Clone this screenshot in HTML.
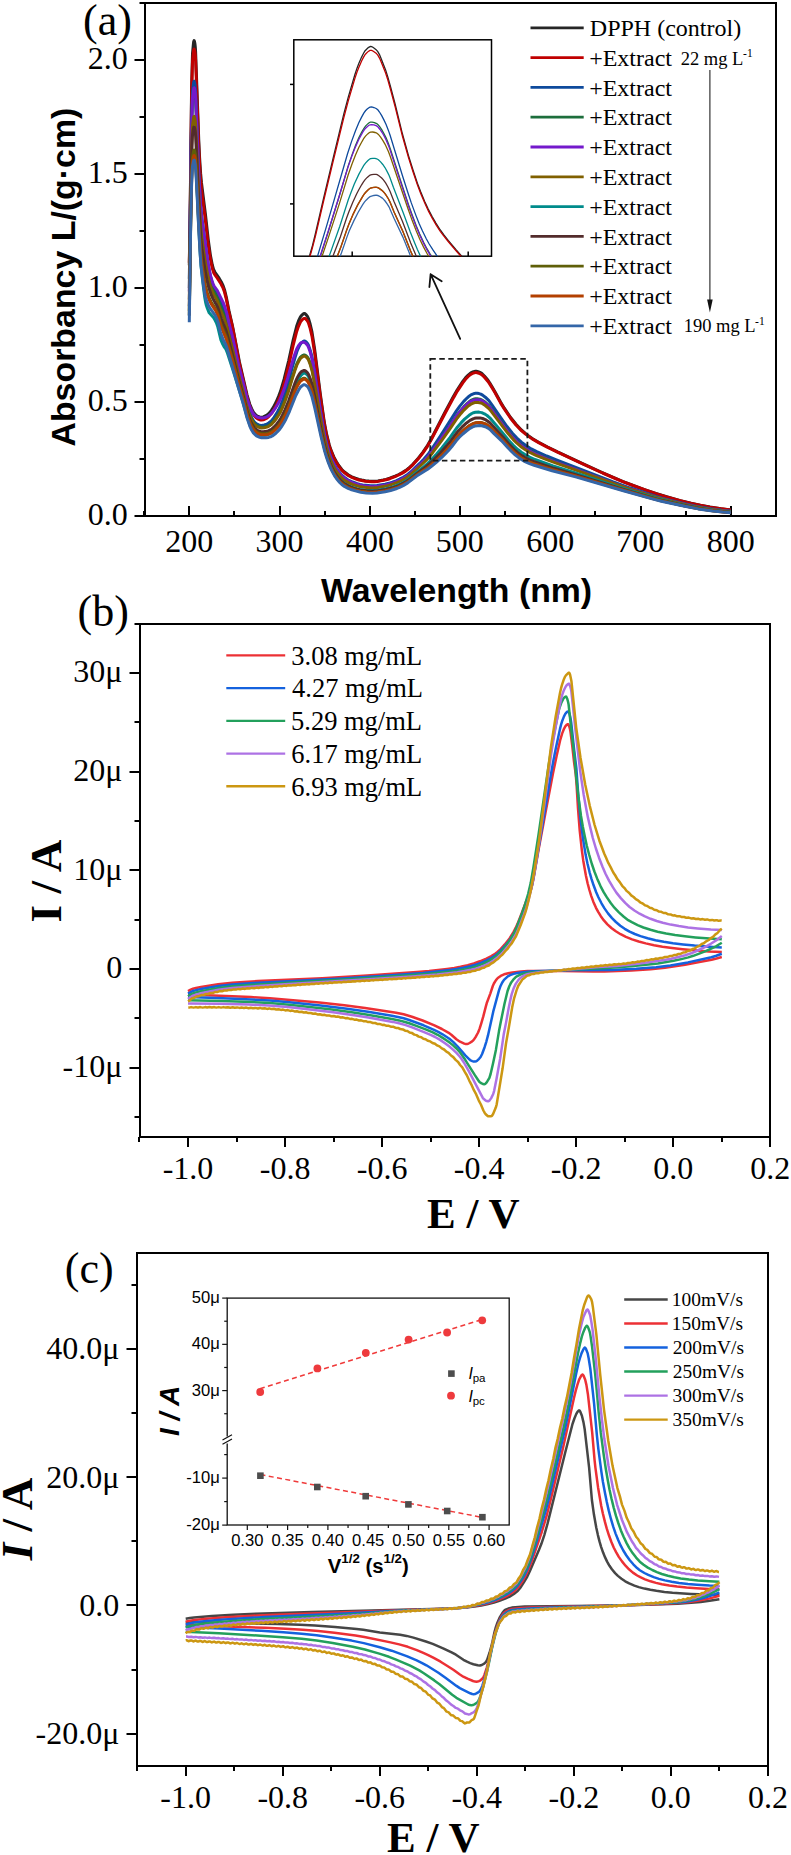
<!DOCTYPE html>
<html><head><meta charset="utf-8"><style>
html,body{margin:0;padding:0;background:#fff;width:791px;height:1855px;overflow:hidden}
svg{display:block}
</style></head><body>
<svg width="791" height="1855" viewBox="0 0 791 1855">
<rect width="791" height="1855" fill="#fff"/>
<rect x="145.0" y="3.0" width="631.0" height="513.0" fill="none" stroke="#000" stroke-width="2"/>
<line x1="134.5" y1="516" x2="145" y2="516" stroke="#000" stroke-width="2" />
<line x1="139.5" y1="459" x2="145" y2="459" stroke="#000" stroke-width="2" />
<line x1="134.5" y1="402" x2="145" y2="402" stroke="#000" stroke-width="2" />
<line x1="139.5" y1="345" x2="145" y2="345" stroke="#000" stroke-width="2" />
<line x1="134.5" y1="288" x2="145" y2="288" stroke="#000" stroke-width="2" />
<line x1="139.5" y1="231" x2="145" y2="231" stroke="#000" stroke-width="2" />
<line x1="134.5" y1="174" x2="145" y2="174" stroke="#000" stroke-width="2" />
<line x1="139.5" y1="117" x2="145" y2="117" stroke="#000" stroke-width="2" />
<line x1="134.5" y1="60" x2="145" y2="60" stroke="#000" stroke-width="2" />
<line x1="139.5" y1="3" x2="145" y2="3" stroke="#000" stroke-width="2" />
<line x1="144" y1="516" x2="144" y2="511" stroke="#000" stroke-width="2" />
<line x1="189" y1="516" x2="189" y2="506" stroke="#000" stroke-width="2" />
<line x1="234" y1="516" x2="234" y2="511" stroke="#000" stroke-width="2" />
<line x1="280" y1="516" x2="280" y2="506" stroke="#000" stroke-width="2" />
<line x1="325" y1="516" x2="325" y2="511" stroke="#000" stroke-width="2" />
<line x1="370" y1="516" x2="370" y2="506" stroke="#000" stroke-width="2" />
<line x1="415" y1="516" x2="415" y2="511" stroke="#000" stroke-width="2" />
<line x1="460" y1="516" x2="460" y2="506" stroke="#000" stroke-width="2" />
<line x1="505" y1="516" x2="505" y2="511" stroke="#000" stroke-width="2" />
<line x1="550" y1="516" x2="550" y2="506" stroke="#000" stroke-width="2" />
<line x1="595" y1="516" x2="595" y2="511" stroke="#000" stroke-width="2" />
<line x1="641" y1="516" x2="641" y2="506" stroke="#000" stroke-width="2" />
<line x1="686" y1="516" x2="686" y2="511" stroke="#000" stroke-width="2" />
<line x1="731" y1="516" x2="731" y2="506" stroke="#000" stroke-width="2" />
<line x1="776" y1="516" x2="776" y2="511" stroke="#000" stroke-width="2" />
<text x="87.75" y="525.2" font-family="'Liberation Serif', serif" font-size="32" text-anchor="start" font-weight="normal" font-style="normal" fill="#000" >0.0</text>
<text x="87.75" y="411.2" font-family="'Liberation Serif', serif" font-size="32" text-anchor="start" font-weight="normal" font-style="normal" fill="#000" >0.5</text>
<text x="87.75" y="297.2" font-family="'Liberation Serif', serif" font-size="32" text-anchor="start" font-weight="normal" font-style="normal" fill="#000" >1.0</text>
<text x="87.75" y="183.2" font-family="'Liberation Serif', serif" font-size="32" text-anchor="start" font-weight="normal" font-style="normal" fill="#000" >1.5</text>
<text x="87.75" y="69.2" font-family="'Liberation Serif', serif" font-size="32" text-anchor="start" font-weight="normal" font-style="normal" fill="#000" >2.0</text>
<text x="165.18" y="551.85" font-family="'Liberation Serif', serif" font-size="32" text-anchor="start" font-weight="normal" font-style="normal" fill="#000" >200</text>
<text x="255.43" y="551.85" font-family="'Liberation Serif', serif" font-size="32" text-anchor="start" font-weight="normal" font-style="normal" fill="#000" >300</text>
<text x="346.05" y="551.85" font-family="'Liberation Serif', serif" font-size="32" text-anchor="start" font-weight="normal" font-style="normal" fill="#000" >400</text>
<text x="435.8" y="551.85" font-family="'Liberation Serif', serif" font-size="32" text-anchor="start" font-weight="normal" font-style="normal" fill="#000" >500</text>
<text x="526.17" y="551.85" font-family="'Liberation Serif', serif" font-size="32" text-anchor="start" font-weight="normal" font-style="normal" fill="#000" >600</text>
<text x="616.17" y="551.85" font-family="'Liberation Serif', serif" font-size="32" text-anchor="start" font-weight="normal" font-style="normal" fill="#000" >700</text>
<text x="706.8" y="551.85" font-family="'Liberation Serif', serif" font-size="32" text-anchor="start" font-weight="normal" font-style="normal" fill="#000" >800</text>
<text x="74.95" y="446.55" font-family="'Liberation Sans', sans-serif" font-size="33.9" text-anchor="start" font-weight="bold" font-style="normal" fill="#000" transform="rotate(-90 74.95 446.55)">Absorbancy L/(g·cm)</text>
<text x="321.1" y="602" font-family="'Liberation Sans', sans-serif" font-size="33.8" text-anchor="start" font-weight="bold" font-style="normal" fill="#000" >Wavelength (nm)</text>
<text x="83.1" y="35.2" font-family="'Liberation Serif', serif" font-size="44" text-anchor="start" font-weight="normal" font-style="normal" fill="#000" >(a)</text>
<g fill="none" stroke-width="3" stroke-linejoin="round" stroke-linecap="butt">
<path d="M189.3 265.2l0.7-41.3l1.6-136.5l0.9-33.7l0.9-9.7l0.3-2.5l0.4-0.9l0.4 1l0.5 2.7l0.3 2.9l0.3 4.5l3.2 89.6l0.8 16.6l1 15.3l0.9 9.8l4 32l2.8 25.1l2.2 15.8l1.8 9.1l1.4 4.8l1.3 2.5l4.1 5.9l2.2 3.8l1.8 3.7l1.4 4l1.8 7.4l2.7 13.7l3.6 15.7l6.8 35.4l7.7 33.3l2.7 9l1.8 4.4l1.8 3.6l0.9 1.2l1.8 1.8l1.8 1.2l1.8 0.6l1.8 0.3l1.8-0.4l3.6-1.8l1.8-1.5l2.7-3.2l1.8-2.8l2.7-5.1l2.7-6.1l1.9-5l3.6-12.2l4.5-18.2l4.5-20.6l3.6-14.3l1.8-5.1l1.8-3.9l0.9-1.3l1.8-1.7l0.9-0.5l0.9 0l0.9 0.6l0.9 1.1l0.9 1.2l0.9 1.8l1.8 6l1.8 7.9l2.7 17.4l5.5 43.7l3.6 25.5l0.9 5.6l1.8 9.3l2.7 11l1.8 5.5l2.7 6.5l2.7 5l2.7 4.3l2.7 3.5l2.7 2.5l3.6 2.8l3.7 2l3.6 1.4l3.6 1.2l2.7 0.6l3.6 0.7l3.6 0.4l2.7 0.2l2.7 0l3.6-0.4l5.4-0.9l2.7-0.6l3.7-1.2l5.4-2.1l3.6-1.6l3.6-1.9l3.6-2.2l2.7-2.1l4.5-4.2l5.4-6.1l4.5-5.9l4.6-6.8l3.6-6.3l13.5-26.3l9-16.7l3.6-6.2l5.5-8.4l2.7-3.5l2.7-2.8l1.8-1.6l1.8-1.1l1.8-0.8l1.8-0.4l0.9 0.1l1.8 0.4l1.8 0.7l1.8 1l2.7 2.6l3.6 4.3l1.8 2.7l2.7 4.5l2.7 4.7l5.5 10.1l3.6 5.9l6.3 9.3l5.4 6.8l5.4 5.7l4.5 3.9l6.3 4.6l6.4 3.7l9 4.8l9.9 4.9l26.2 12.2l18 8.3l20.8 8.9l10.8 4.2l11.8 4.3l10.8 3.7l9.9 3l14.5 4.1l10.8 2.7l9 2l9.9 1.8l10.9 1.7l9.9 1.3" stroke="#262626"/>
<path d="M189.3 262.9l0.8-44.6l1.5-124.1l0.9-32.6l0.9-9.3l0.3-2.4l0.4-0.9l0.4 1l0.5 2.7l0.3 2.9l0.3 4.4l3.2 87.7l0.8 16.5l1 15.4l0.9 9.8l4 32l2.3 20.3l2.3 15.7l2.2 11l1.4 4.3l0.9 1.7l2.7 3.7l3.6 5.7l2.2 4.4l1.4 3.9l1.8 7.1l2.7 13.3l3.2 13.2l2.2 11.2l4.5 24.4l8.2 35.8l2.7 9.2l1.8 4.5l1.8 3.6l0.9 1.3l1.8 2l0.9 0.7l1.8 1l1.8 0.7l0.9 0l1.8-0.3l3.6-1.7l1.8-1.5l2.7-3l2.7-4.3l2.7-5.1l1.8-4.1l1.9-4.7l1.8-5.6l2.7-9.5l3.6-14.4l4.5-20.2l3.6-14.3l1.8-5.1l1.8-4l0.9-1.4l1.8-1.9l0.9-0.6l0.9 0l0.9 0.5l0.9 1l0.9 1.2l0.9 1.8l1.8 5.7l1.8 7.7l2.7 16.9l5.5 42.5l3.6 24.9l0.9 5.4l1.8 9.1l2.7 10.8l1.8 5.3l2.7 6.4l2.7 5l2.7 4.3l2.7 3.4l2.7 2.5l3.6 2.7l3.7 1.9l3.6 1.4l3.6 1.2l2.7 0.6l3.6 0.6l6.3 0.6l2.7 0l3.6-0.4l8.1-1.6l3.7-1.1l5.4-2.1l3.6-1.6l3.6-1.9l3.6-2.2l2.7-2.1l4.5-4.2l5.4-6l4.5-5.8l4.6-6.7l3.6-6.3l13.5-25.8l9-16.6l3.6-6.3l5.5-8.3l2.7-3.5l2.7-2.8l1.8-1.6l1.8-1.1l1.8-0.8l1.8-0.4l0.9 0l1.8 0.4l1.8 0.7l1.8 1l2.7 2.5l3.6 4.3l1.8 2.6l2.7 4.4l2.7 4.6l5.5 10l3.6 5.9l6.3 9.2l5.4 6.8l5.4 5.6l4.5 3.8l6.3 4.5l6.4 3.7l8.1 4.3l10.8 5.3l26.2 12.1l18.9 8.7l12.7 5.5l8.1 3.3l10.8 4.2l11.8 4.2l10.8 3.6l9.9 3.1l13.6 3.7l10.8 2.8l9 1.9l9.9 1.9l10.9 1.6l9.9 1.3" stroke="#c00000"/>
<path d="M189.3 278.9l0.6-34.9l1.1-90.2l0.6-33.1l0.9-28.7l0.9-8l0.3-2l0.4-0.8l0.4 1.2l0.5 2.6l0.6 6.9l3.2 80.6l1.8 31.6l0.9 10l0.9 7.5l5 37.2l1.3 8.4l1.8 9.1l2.3 8.2l1.3 3.3l2.7 4.9l0.9 1.9l3.2 8.6l2.7 6.5l2.3 7l0.9 3.4l2.2 10.2l3.2 12.5l6.7 30.1l4.5 17.2l2.8 11.4l1.8 6.4l1.8 5.5l1.8 4.1l1.8 3.2l0.9 1.2l1.8 1.6l0.9 0.6l1.8 0.8l1.8 0.5l0.9 0.1l2.7-0.5l2.7-0.9l1.8-1.1l2.7-2.2l2.7-3.5l2.7-4.2l1.8-3.3l1.9-3.9l1.8-4.6l2.7-7.8l3.6-12.1l3.6-13.7l2.7-9.7l1.8-5.8l0.9-2.4l1.8-3.9l0.9-1.6l0.9-1.2l1.8-1.6l0.9-0.5l0.9 0l0.9 0.5l0.9 0.9l0.9 1.1l0.9 1.6l1.8 5.1l1.8 6.8l2.7 14.9l5.5 36.7l3.6 21.4l0.9 4.8l1.8 7.9l2.7 9.7l1.8 5l2.7 6l2.7 4.7l2.7 4l2.7 3.1l2.7 2.3l3.6 2.5l3.7 1.7l5.4 2l2.7 0.7l2.7 0.5l8.1 0.9l2.7 0l3.6-0.2l8.1-1.4l3.7-0.9l3.6-1.2l3.6-1.3l3.6-1.6l3.6-1.9l3.6-2.2l4.5-3.6l8.1-7.8l4.6-4.7l4.5-5.4l3.6-5.1l8.1-12.3l16.2-25.3l3.6-5l3.7-4.5l3.6-3.6l1.8-1.6l1.8-1.3l1.8-0.8l1.8-0.7l0.9-0.1l1.8 0l1.8 0.3l1.8 0.5l1.8 1l2.7 2.1l3.6 3.5l2.7 3.6l9.1 13.3l6.3 8.9l5.4 6.8l4.5 4.8l4.5 4.1l4.5 3.3l5.4 3.4l5.5 2.7l9.9 4.4l9 3.7l56.9 22l17.1 6.1l24.4 7.9l8.1 2.4l9 2.3l13.6 3.4l9 2l9 1.7l8.1 1.3l10.9 1.5l9 1" stroke="#0e4a9c"/>
<path d="M189.3 288l2.3-161.4l0.9-27.8l0.9-7.7l0.3-2l0.4-0.7l0.4 1.3l0.5 2.7l0.6 6.9l3.2 79.7l1.8 31.8l0.9 10.2l0.9 7.7l2.7 21l3.2 21.3l1.8 8.7l2.2 7.8l1.4 3.4l2.7 4.8l1.3 2.8l3.2 8.9l3.1 7.4l2.3 6.8l2.7 11.4l3.6 14l6.3 27.5l4.5 17.1l2.8 11.3l1.8 6.5l1.8 5.5l1.8 4.1l1.8 3.2l0.9 1.1l1.8 1.8l0.9 0.6l1.8 0.8l2.7 0.7l2.7-0.3l2.7-0.6l1.8-0.8l2.7-1.9l2.7-3l2.7-3.6l1.8-2.8l1.9-3.4l1.8-4l2.7-6.8l3.6-10.4l3.6-12.1l2.7-8.3l1.8-5.1l0.9-2l1.8-3.3l0.9-1.4l0.9-0.9l1.8-1.2l0.9-0.3l0.9 0l0.9 0.5l0.9 0.7l0.9 1l0.9 1.3l1.8 4.6l1.8 6.2l2.7 13.4l5.5 33l3.6 19.4l2.7 11.7l2.7 9l1.8 4.7l2.7 5.8l2.7 4.5l2.7 3.8l2.7 3l2.7 2.1l3.6 2.3l3.7 1.6l5.4 1.8l2.7 0.7l2.7 0.4l8.1 0.8l3.6-0.1l3.6-0.3l8.1-1.4l3.7-1l3.6-1.2l3.6-1.4l3.6-1.6l3.6-2l2.7-1.6l4.5-3.6l9-8.3l4.6-4.5l4.5-5.1l3.6-4.8l9-12.7l8.1-11.9l7.2-11l3.7-4.7l2.7-3.2l3.6-3.6l1.8-1.5l1.8-1.3l3.6-1.5l0.9-0.2l1.8 0l2.7 0.4l0.9 0.3l1.8 0.9l2.7 1.9l3.6 3.3l2.7 3.3l9.1 12.6l7.2 9.8l5.4 6.4l4.5 4.5l3.6 3.2l4.5 3.2l5.4 3.1l5.5 2.7l9.9 4.1l8.1 3.2l59.6 21.7l16.2 5.5l24.4 7.7l8.1 2.3l9 2.3l13.6 3.3l8.1 1.7l9 1.7l8.1 1.3l10.9 1.4l9 1" stroke="#1d6e3c"/>
<path d="M189.3 291.4l0.6-41l1.1-92.3l0.6-32l0.9-27.9l1-8.3l0.3-1.7l0.2-0.3l0.2-0.1l0.4 1.3l0.7 3.9l0.4 6.3l3.1 76.6l1.8 30.9l0.9 9.8l0.9 7.1l5 35.5l1.3 8.1l1.8 8.4l1.4 4.8l1.3 3.8l0.9 1.7l2.7 3.8l0.9 1.5l5.4 11l1.8 4.8l1.9 6.3l2.2 10l3.2 12.1l6.7 30.8l4.5 17.3l3.7 14.8l1.8 5.9l1.8 4.7l1.8 3.5l0.9 1.4l1.8 1.9l1.8 1.2l0.9 0.3l3.6 0.6l1.8 0l2.7-0.7l1.8-0.8l2.7-2.1l1.8-1.9l2.7-3.7l2.7-4.5l1.9-3.5l1.8-4.3l1.8-4.8l1.8-5.1l2.7-8.5l5.4-18.6l1.8-5.5l1.8-4.9l1.8-3.4l1.8-2.3l0.9-0.6l0.9-0.3l0.9-0.2l0.9 0.1l0.9 0.4l0.9 0.5l1.8 2.1l0.9 1.6l1.8 5.1l1.8 6.9l2.7 14.8l5.5 36.2l3.6 21.2l0.9 4.7l1.8 7.8l2.7 9.6l1.8 5l2.7 6l2.7 4.7l3.6 5.1l2.7 2.8l2.7 2.1l3.6 2.3l3.7 1.6l6.3 2.1l2.7 0.6l3.6 0.6l6.3 0.6l2.7-0.1l3.6-0.3l8.1-1.3l3.7-1l3.6-1.2l3.6-1.3l3.6-1.6l3.6-2l2.7-1.6l4.5-3.6l8.1-7.4l4.6-4.4l4.5-5l3.6-4.6l9-12.5l9-13l7.2-10.7l3.7-4.6l2.7-3.1l3.6-3.4l1.8-1.5l1.8-1.2l1.8-0.8l1.8-0.6l2.7-0.2l2.7 0.4l0.9 0.2l1.8 0.9l2.7 1.9l3.6 3.2l2.7 3.3l9.1 12.5l7.2 9.6l5.4 6.4l4.5 4.5l3.6 3.1l4.5 3.2l5.4 3.2l5.5 2.5l9.9 4.2l8.1 3.1l16.3 5.8l44.2 16.1l16.2 5.5l24.4 7.6l17.1 4.6l12.7 3l8.1 1.7l9 1.7l8.1 1.3l10.9 1.4l9 1" stroke="#7419cc"/>
<path d="M189.3 299.4l2.2-146.6l0.5-16.7l0.5-11l1-7l0.3-1.4l0.4-0.3l0.4 1.1l0.7 3.5l0.4 5.5l3 67.7l1.9 31.8l0.9 9.6l0.9 7l2.7 18.5l2.3 12.6l2.2 9.7l2.3 7.2l1.8 4.1l2.7 4.5l1.3 2.8l2.7 7.9l3.6 8.5l2.3 6.5l2.7 11l3.6 13.6l6.3 26.7l4.5 16.7l2.8 11.2l2.7 9.3l1.8 4.8l1.8 3.5l1.8 2.6l1.8 1.6l0.9 0.7l1.8 0.7l2.7 0.7l2.7-0.3l2.7-0.6l1.8-0.8l2.7-1.8l2.7-2.9l2.7-3.6l1.8-2.8l1.9-3.3l1.8-4l2.7-6.7l3.6-10.3l3.6-12l2.7-8.4l1.8-5l0.9-2l1.8-3.4l0.9-1.4l0.9-0.9l1.8-1.3l0.9-0.4l0.9 0.1l0.9 0.4l0.9 0.8l0.9 1l0.9 1.4l1.8 4.6l1.8 6.1l2.7 13.5l5.5 32.6l3.6 19.3l2.7 11.5l1.8 6.3l1.8 5.2l2.7 6.2l1.8 3.4l2.7 4.2l2.7 3.5l2.7 2.7l2.7 2l3.6 2l3.7 1.6l6.3 1.9l5.4 0.9l7.2 0.6l2.7-0.1l3.6-0.3l8.1-1.4l3.7-1l3.6-1.2l3.6-1.3l3.6-1.6l3.6-1.9l2.7-1.7l4.5-3.5l9.9-8.9l4.6-4.3l3.6-4l3.6-4.5l9-12.1l8.1-11.4l7.2-10.7l3.7-4.6l2.7-3.1l3.6-3.4l1.8-1.5l1.8-1.2l3.6-1.6l1.8-0.2l1.8 0.1l2.7 0.4l1.8 0.8l2.7 1.8l3.6 3.1l2.7 3.2l16.3 21.5l5.4 6.3l3.6 3.6l4.5 3.8l3.6 2.5l5.4 3.2l5.5 2.6l10.8 4.4l8.1 3l16.3 5.7l44.2 15.8l15.3 5.2l25.3 7.8l17.1 4.5l13.6 3.2l8.1 1.7l9 1.6l8.1 1.3l10 1.3l9 0.9" stroke="#806000"/>
<path d="M189.3 315.4l1.3-90.5l0.8-41.6l0.6-16.9l0.5-9l0.9-5.2l0.3-1.2l0.4-0.5l0.5 2.1l0.7 4.5l0.5 6.9l2.9 62.1l1.4 26.1l0.9 13.3l1.8 16.9l1.8 14l0.9 5.4l0.9 3.8l1 2.9l1.8 4.3l4.5 4.9l1.3 2.3l1.4 2.7l1.3 3.7l3.2 13.5l1.8 4.2l1.3 2.5l1.9 2.6l1.3 3.1l6.3 19.4l9 28.9l4.6 16.3l2.7 7.9l0.9 2l1.8 3.1l1.8 2.3l1.8 1.4l1.8 0.9l2.7 0.7l3.6 0l1.8-0.2l1.8-0.3l2.7-1.1l1.8-1.2l3.6-3.4l1.8-2.1l1.9-2.4l1.8-3l2.7-5.2l1.8-3.9l3.6-9.2l2.7-8l3.6-10l1.8-4.2l1.8-3.3l0.9-1.5l0.9-1l1.8-1.6l0.9-0.4l0.9-0.1l0.9 0.4l0.9 0.7l0.9 0.9l0.9 1.2l1.8 4.1l1.8 5.4l2.7 11.9l5.5 28.3l3.6 16.8l2.7 10.2l1.8 5.6l1.8 4.8l2.7 5.9l1.8 3.3l2.7 3.9l2.7 3.3l2.7 2.5l3.6 2.4l3.6 1.8l3.7 1.3l3.6 1.1l2.7 0.6l5.4 0.7l7.2 0.4l5.4-0.4l8.1-1.4l6.4-1.7l6.3-2.4l3.6-1.7l3.6-2.1l3.6-2.5l6.3-5.3l8.2-6.4l3.6-3.1l3.6-3.6l5.4-6l5.4-6.3l8.1-10.3l7.2-10.2l3.7-4.3l3.6-3.8l4.5-3.8l2.7-1.8l1.8-0.8l1.8-0.5l3.6-0.1l2.7 0.5l2.7 1.2l2.7 1.7l2.7 2.3l11.8 13.8l7.2 8.8l4.5 4.9l4.5 4.2l3.6 2.8l3.6 2.3l4.5 2.5l5.5 2.4l18 6.4l21.7 6.7l44.2 14.5l13.5 4.2l25.3 7.4l17.1 4.2l11.8 2.7l8.1 1.6l9 1.6l8.1 1.2l10 1.2l9 0.9" stroke="#008b8b"/>
<path d="M189.3 306.2l1.4-99.2l0.8-45.8l0.5-15.8l0.5-10.4l1-6.5l0.3-1.3l0.2-0.3l0.2 0l0.4 1.2l0.7 3.6l0.4 5.4l3.2 69.4l1.2 21.7l0.9 12l0.9 8.2l2.3 16.2l0.9 5.8l1.8 9.4l1.8 7.5l2.3 7l1.8 4.1l3.1 5.5l1.4 2.7l0.9 2.4l2.7 8.9l4 9.8l1.4 3.7l6.3 23.8l6.3 25.4l4.5 16.2l3.7 14.3l1.8 5.9l1.8 4.7l1.8 3.5l1.8 2.6l1.8 1.7l1.8 1.1l2.7 0.9l2.7 0.2l3.6-0.4l1.8-0.6l2.7-1.4l2.7-2.4l2.7-2.9l1.8-2.4l1.9-2.7l1.8-3.4l2.7-5.6l3.6-8.8l6.3-17.8l1.8-4.4l0.9-1.8l1.8-3.1l0.9-1.2l0.9-0.9l1.8-1.1l0.9-0.3l0.9 0.1l0.9 0.5l0.9 0.8l0.9 0.9l0.9 1.4l1.8 4.3l1.8 5.6l2.7 12.3l5.5 29l3.6 17l2.7 10.4l1.8 5.7l1.8 4.8l2.7 6l1.8 3.3l3.6 5.2l2.7 3.1l2.7 2.3l3.6 2.2l3.6 1.7l3.7 1.3l5.4 1.5l6.3 0.9l6.3 0.4l5.4-0.4l8.1-1.3l6.4-1.7l6.3-2.2l6.3-3.2l3.6-2.3l8.1-6.5l9.1-6.6l3.6-3l3.6-3.4l7.2-7.4l6.3-7.1l4.5-5.5l5.4-7.3l1.8-2.2l3.7-3.9l3.6-3.4l4.5-3.4l3.6-1.8l0.9-0.3l1.8-0.3l3.6-0.1l2.7 0.6l2.7 1.1l1.8 1.1l2.7 2.1l11.8 12.7l8.1 9.4l4.5 4.6l3.6 3.2l3.6 2.7l3.6 2.2l4.5 2.2l4.6 1.9l19.8 6.6l21.7 6.3l47.8 14.8l35.2 10.2l9 2.2l12.7 2.9l15.3 3.1l16.2 2.6l10 1.1l9 0.9" stroke="#532c2c"/>
<path d="M189.3 310.8l1.4-91.8l0.8-39.2l0.5-13.8l0.5-9.1l0.9-5.1l0.4-1.5l0.4-0.3l0.4 1.1l0.7 3.2l0.5 6.1l0.9 16l1.9 41l2 32.5l0.9 9.7l0.9 7l2.2 14.8l0.9 4.7l1.9 6.8l1.3 3.9l1.4 3.1l1.3 2.6l4.1 6.4l1.8 3.4l0.9 2.6l2.7 9.3l5.4 12.7l6.3 22.5l6.3 24.1l4.5 15.8l2.8 10.8l2.7 9.1l1.8 4.7l1.8 3.4l1.8 2.5l1.8 1.7l0.9 0.6l2.7 1.2l1.8 0.4l4.5 0l1.8-0.3l2.7-0.9l1.8-1.1l2.7-2.3l1.8-1.8l1.8-2.1l1.9-2.5l1.8-3l2.7-5.1l3.6-8l6.3-16.4l1.8-4.1l0.9-1.7l1.8-2.9l0.9-1.1l0.9-0.8l1.8-1.1l0.9-0.3l0.9 0.1l0.9 0.5l0.9 0.8l0.9 0.9l0.9 1.2l1.8 4.1l1.8 5.3l2.7 11.5l5.5 27l3.6 15.9l1.8 6.8l1.8 5.8l1.8 5.1l1.8 4.2l2.7 5.5l1.8 3l2.7 3.6l2.7 3l2.7 2.2l3.6 2.1l3.6 1.7l4.6 1.5l5.4 1.4l6.3 0.7l5.4 0.3l5.4-0.4l7.2-1.1l6.4-1.5l6.3-2.2l6.3-3l3.6-2.2l9-6.9l10-6.7l4.5-3.5l4.5-4l5.4-5.1l7.2-7.8l3.6-4.3l4.5-6l1.8-2.1l3.7-3.7l3.6-3.3l4.5-3.3l3.6-1.9l2.7-0.6l3.6-0.3l1.8 0.3l3.6 1.1l1.8 1l2.7 1.9l11.8 11.9l6.3 7.1l2.7 2.9l3.6 3.5l3.6 3l3.6 2.6l3.6 2.1l4.5 2.1l4.6 1.8l18.9 6l21.7 5.8l48.7 14.5l28.9 8.2l8.1 2.2l23.5 5.3l13.5 2.6l15.4 2.3l9.9 1.1l8.1 0.8" stroke="#5f5f08"/>
<path d="M189.3 315.4l1.3-88.1l0.9-43l0.5-13.4l0.5-8.8l0.9-4.9l0.4-1.4l0.4-0.3l0.4 1l0.7 3.1l0.5 5.8l0.9 15.6l2.2 45l1.2 20.8l0.9 11.8l1.4 11.2l2.2 14.6l0.9 4.5l1.9 6.3l2.2 5.5l1.8 3.4l4.1 6.3l1.8 3.6l0.9 2.6l2.7 9.7l5.4 12.8l6.3 22.3l6.3 23.6l4.5 15.5l3.7 14l2.7 8.3l1.8 4l1.8 2.9l1.8 2l1.8 1.4l2.7 1.3l1.8 0.3l4.5 0l1.8-0.3l2.7-0.9l1.8-1l3.6-3.2l1.8-1.9l1.9-2.2l1.8-2.7l2.7-4.8l1.8-3.6l3.6-8.4l5.4-14.1l1.8-4.2l0.9-1.7l1.8-3l0.9-1.2l0.9-0.8l1.8-1.2l0.9-0.3l0.9 0.1l0.9 0.4l0.9 0.8l0.9 0.9l0.9 1.2l1.8 4l1.8 5.3l2.7 11.5l5.5 26.7l3.6 15.8l1.8 6.7l1.8 5.8l1.8 5l1.8 4.3l2.7 5.4l1.8 3l2.7 3.6l2.7 3l2.7 2.2l3.6 2.1l3.6 1.6l4.6 1.5l5.4 1.4l6.3 0.7l5.4 0.3l5.4-0.4l7.2-1.1l6.4-1.5l6.3-2.2l6.3-3l3.6-2.2l9-6.9l10-6.6l4.5-3.6l4.5-3.9l5.4-5.2l7.2-7.8l3.6-4.2l4.5-6.1l1.8-2.1l3.7-3.8l3.6-3.2l4.5-3.4l3.6-1.8l2.7-0.7l3.6-0.2l1.8 0.2l3.6 1.2l1.8 1l2.7 1.9l1.8 1.7l2.7 3l7.3 7.2l6.3 7.2l2.7 2.8l3.6 3.6l3.6 3l3.6 2.6l3.6 2.1l4.5 2.1l4.6 1.8l18.9 6l21.7 5.8l48.7 14.4l28.9 8.3l8.1 2.1l23.5 5.3l13.5 2.6l15.4 2.3l9.9 1.1l8.1 0.7" stroke="#b34000"/>
<path d="M189.3 322.2l1.3-92.8l0.8-38.6l0.6-15.9l0.5-8.5l0.9-4.7l0.3-1.2l0.4-0.4l0.3 0.3l0.2 1l0.7 3.5l0.5 6l0.9 15.6l2.1 43.5l1.3 22.9l0.9 12.3l1.8 15.1l1.8 12.2l0.9 4.6l1.4 4.6l1.8 4.3l2.3 3.7l3.1 4.1l1.4 2.2l1.3 2.8l1.4 4l2.2 9.3l0.9 2.8l1.8 4.5l2.8 5.6l0.9 2.4l11.7 40.5l4.9 16.4l3.7 13.7l2.7 8.1l1.8 3.9l1.8 2.9l1.8 1.9l1.8 1.4l2.7 1.2l1.8 0.4l4.5 0l2.7-0.4l1.8-0.5l1.8-0.9l3.6-2.8l1.8-1.8l1.9-2l1.8-2.5l2.7-4.4l1.8-3.3l3.6-7.9l6.3-15.8l2.7-5.3l1.8-2.8l0.9-0.9l1.8-1.4l0.9-0.4l0.9 0l0.9 0.5l0.9 0.7l0.9 0.8l0.9 1.2l1.8 3.8l1.8 5.1l2.7 10.9l6.4 29.3l3.6 14.4l1.8 5.9l1.8 5.2l1.8 4.5l1.8 3.9l2.7 5l1.8 2.6l2.7 3.4l2.7 2.6l2.7 1.9l3.6 1.9l2.7 1.2l4.6 1.4l5.4 1.4l5.4 0.6l6.3 0.3l4.5-0.3l8.1-1.1l5.5-1.3l6.3-2l2.7-1.2l3.6-1.7l4.5-2.7l9-6.8l10.9-6.8l4.5-3.4l4.5-3.7l5.4-5l6.3-6.5l3.6-4.2l4.5-5.9l2.7-3.1l3.7-3.5l3.6-3l3.6-2.7l3.6-1.8l1.8-0.6l4.5-0.4l1.8 0.2l3.6 1l2.7 1.4l2.7 2l3.6 3.8l7.3 6.9l6.3 7l3.6 3.7l3.6 3.3l3.6 2.9l2.7 1.8l3.6 2.1l4.5 2l4.6 1.7l18 5.5l23.5 6.1l47.8 13.8l29.8 8.4l8.1 2.1l23.5 5.1l13.5 2.6l14.5 2.1l9.9 1.1l8.1 0.7" stroke="#3466a8"/>
</g>
<line x1="530.5" y1="27.8" x2="583.7" y2="27.8" stroke="#262626" stroke-width="2.8" />
<text x="589.85" y="35.9" font-family="'Liberation Serif', serif" font-size="24" text-anchor="start" font-weight="normal" font-style="normal" fill="#000" >DPPH (control)</text>
<line x1="530.5" y1="57.6" x2="583.7" y2="57.6" stroke="#c00000" stroke-width="2.8" />
<text x="589.15" y="65.7" font-family="'Liberation Serif', serif" font-size="24" text-anchor="start" font-weight="normal" font-style="normal" fill="#000" >+Extract</text>
<line x1="530.5" y1="87.4" x2="583.7" y2="87.4" stroke="#0e4a9c" stroke-width="2.8" />
<text x="589.15" y="95.5" font-family="'Liberation Serif', serif" font-size="24" text-anchor="start" font-weight="normal" font-style="normal" fill="#000" >+Extract</text>
<line x1="530.5" y1="117.2" x2="583.7" y2="117.2" stroke="#1d6e3c" stroke-width="2.8" />
<text x="589.15" y="125.3" font-family="'Liberation Serif', serif" font-size="24" text-anchor="start" font-weight="normal" font-style="normal" fill="#000" >+Extract</text>
<line x1="530.5" y1="147" x2="583.7" y2="147" stroke="#7419cc" stroke-width="2.8" />
<text x="589.15" y="155.1" font-family="'Liberation Serif', serif" font-size="24" text-anchor="start" font-weight="normal" font-style="normal" fill="#000" >+Extract</text>
<line x1="530.5" y1="176.8" x2="583.7" y2="176.8" stroke="#806000" stroke-width="2.8" />
<text x="589.15" y="184.9" font-family="'Liberation Serif', serif" font-size="24" text-anchor="start" font-weight="normal" font-style="normal" fill="#000" >+Extract</text>
<line x1="530.5" y1="206.6" x2="583.7" y2="206.6" stroke="#008b8b" stroke-width="2.8" />
<text x="589.15" y="214.7" font-family="'Liberation Serif', serif" font-size="24" text-anchor="start" font-weight="normal" font-style="normal" fill="#000" >+Extract</text>
<line x1="530.5" y1="236.4" x2="583.7" y2="236.4" stroke="#532c2c" stroke-width="2.8" />
<text x="589.15" y="244.5" font-family="'Liberation Serif', serif" font-size="24" text-anchor="start" font-weight="normal" font-style="normal" fill="#000" >+Extract</text>
<line x1="530.5" y1="266.2" x2="583.7" y2="266.2" stroke="#5f5f08" stroke-width="2.8" />
<text x="589.15" y="274.3" font-family="'Liberation Serif', serif" font-size="24" text-anchor="start" font-weight="normal" font-style="normal" fill="#000" >+Extract</text>
<line x1="530.5" y1="296" x2="583.7" y2="296" stroke="#b34000" stroke-width="2.8" />
<text x="589.15" y="304.1" font-family="'Liberation Serif', serif" font-size="24" text-anchor="start" font-weight="normal" font-style="normal" fill="#000" >+Extract</text>
<line x1="530.5" y1="325.8" x2="583.7" y2="325.8" stroke="#3466a8" stroke-width="2.8" />
<text x="589.15" y="333.9" font-family="'Liberation Serif', serif" font-size="24" text-anchor="start" font-weight="normal" font-style="normal" fill="#000" >+Extract</text>
<text x="680.65" y="64.7" font-family="'Liberation Serif', serif" font-size="18.5" text-anchor="start" font-weight="normal" font-style="normal" fill="#000" >22 mg L</text>
<text x="743.1" y="57.2" font-family="'Liberation Serif', serif" font-size="11.5" text-anchor="start" font-weight="normal" font-style="normal" fill="#000" >-1</text>
<text x="683.65" y="332" font-family="'Liberation Serif', serif" font-size="18.5" text-anchor="start" font-weight="normal" font-style="normal" fill="#000" >190 mg L</text>
<text x="755.1" y="324.5" font-family="'Liberation Serif', serif" font-size="11.5" text-anchor="start" font-weight="normal" font-style="normal" fill="#000" >-1</text>
<line x1="709.9" y1="70" x2="709.9" y2="302" stroke="#222" stroke-width="1.1" />
<path d="M707.1 299.5 L712.7 299.5 L709.9 312.5 Z" fill="#111"/>
<rect x="430.3" y="358.8" width="97.1" height="101.9" fill="none" stroke="#1a1a1a" stroke-width="1.8" stroke-dasharray="5.5 3.5"/>
<path d="M460.2 338.9 L430.6 274.2 M429.4 287 L430.6 274.2 L441.7 281.2" fill="none" stroke="#111" stroke-width="1.8" stroke-linecap="round" stroke-linejoin="round"/>
<rect x="293.8" y="39.8" width="197.7" height="216.4" fill="#fff" stroke="#000" stroke-width="1.5"/>
<line x1="290" y1="84.4" x2="293.8" y2="84.4" stroke="#000" stroke-width="1.5" />
<line x1="290" y1="203.9" x2="293.8" y2="203.9" stroke="#000" stroke-width="1.5" />
<line x1="352.2" y1="256.2" x2="352.2" y2="251.5" stroke="#000" stroke-width="1.5" />
<line x1="468.2" y1="256.2" x2="468.2" y2="251.5" stroke="#000" stroke-width="1.5" />
<clipPath id="ic"><rect x="293.8" y="39.8" width="197.7" height="216.39999999999998"/></clipPath>
<g fill="none" stroke-width="1.3" clip-path="url(#ic)">
<path d="M284.5 318.3l2.8-4.6l3.4-6.6l3.3-7.5l4.5-10.8l2.8-7.4l2.8-8.1l2.8-8.7l3.3-11.1l2.3-8l2.7-11l8.4-36.4l9-37.8l11.1-45.9l4.5-17.1l6.7-22.8l2.2-6.6l1.7-4.4l2.8-6.4l1.7-3.3l1.6-2.8l1.2-1.3l2.2-2.1l1.7-1l0.5-0.1l1.2 0.2l1.6 0.8l2.8 2.2l1.7 2l1.7 2.9l1.6 3.8l4.5 11.5l2.2 7l2.8 10l4.5 17.1l7.3 29.8l6.1 21.8l4.5 14.4l4.4 13.2l3.4 8.9l3.9 9.4l3.4 7.3l3.9 7.5l3.9 6.8l4.4 6.9l3.4 4.7l4.5 5.7l7.8 9.3l6.7 7.6" stroke="#262626"/>
<path d="M284.5 319.6l2.8-4.6l3.4-6.6l3.3-7.4l4.5-10.7l2.8-7.3l3.3-9.6l6.2-19.8l2.2-8l2.8-11l7.8-33.6l9-37.4l11.1-45.4l4.5-17.1l6.7-22.7l2.2-6.6l1.7-4.4l2.8-6.4l1.7-3.4l1.6-2.7l1.2-1.4l2.2-2.1l1.7-1l0.5-0.1l1.2 0.1l1.6 0.8l2.8 2l1.7 2l1.7 2.9l1.6 3.6l4.5 11.3l2.2 6.8l2.8 9.9l4.5 16.9l7.3 29.4l6.1 21.6l4.5 14.2l4.4 13.1l3.4 8.9l4.5 10.5l3.3 7.1l3.9 7.3l3.9 6.6l3.9 6l3.4 4.6l4.5 5.6l8.3 9.8l6.2 6.9" stroke="#c00000"/>
<path d="M284.5 332.8l2.8-4.3l2.8-5.1l10.1-20.9l3.3-7.5l3.4-8.1l5.6-14.7l4.4-13.9l10.1-33.7l20.6-71.1l3.9-11.9l4-10.9l3.3-8l2.8-5.6l2.2-4l1.7-2.3l1.7-1.7l1.7-1.4l1.1-0.6l1.7-0.2l2.2 0.6l2.2 1l1.7 1.3l1.7 2.2l2.2 3.6l2.2 4.3l2.3 4.8l2.2 5.7l1.7 4.9l12.3 40.2l5.6 17.5l3.3 9.9l4.5 12.2l3.3 8.4l3.4 7.5l3.9 8l2.8 5l3.9 6.2l3.9 5.6l3.9 4.9l3.4 3.8l3.9 4.1l14.5 14" stroke="#0e4a9c"/>
<path d="M284.5 337.1l2.8-4.3l2.8-5l11.2-22.5l6.1-13.3l5.6-13.9l4.5-12.9l10.6-33l11.2-36.2l8.9-30.1l3.9-11.3l3.4-9l3.3-7.7l2.8-5.5l2.2-3.9l1.7-2.4l2.2-2.2l1.7-1.4l1.1-0.4l1.7 0l2.2 0.5l2.3 1l1.1 0.9l1.7 1.9l2.2 3.3l2.2 3.9l2.3 4.5l2.2 5.4l1.7 4.6l12.3 38l6.1 18.5l3.4 9.6l4.4 11.7l3.4 8.1l3.9 8.3l3.3 6.4l2.8 4.7l3.9 5.8l3.4 4.5l3.9 4.8l3.4 3.6l3.3 3.3l15.1 13.8" stroke="#1d6e3c"/>
<path d="M284.5 336l2.8-4.2l2.8-5l10.6-21.2l6.2-13.3l5.6-13.6l5-14.4l10.6-32.7l11.7-37.3l7.8-25.9l3.9-11.3l3.4-8.8l3.9-8.8l4.5-8.2l1.6-2.3l1.2-1.3l2.2-2l1.7-0.9l1.7-0.2l2.2 0.3l2.2 0.8l1.7 1.1l2.2 2.7l2.3 3.3l2.2 4l1.7 3.4l2.2 5.2l1.7 4.7l12.3 37.5l6.1 18.4l3.4 9.4l4.4 11.7l3.4 8l3.9 8.3l3.3 6.3l2.8 4.7l3.9 5.8l3.4 4.4l3.9 4.7l3.4 3.6l3.3 3.3l15.1 13.6" stroke="#7419cc"/>
<path d="M284.5 339.2l2.8-4.3l2.8-4.9l12.3-24.1l5.6-11.8l5-11.9l5-13.8l10.6-31.5l10.7-33l8.9-29.2l3.9-11l3.4-8.7l3.3-7.5l2.8-5.3l2.2-3.8l1.7-2.3l2.2-2.2l1.7-1.3l1.1-0.4l2.3-0.2l2.2 0.5l1.7 0.6l1.7 1.3l2.2 2.7l2.2 3.3l2.3 3.9l1.6 3.4l1.7 3.9l1.7 4.4l17.9 52.7l4.4 12.4l3.9 10l3.4 7.9l3.9 8.1l3.3 6.2l2.8 4.6l3.9 5.6l3.4 4.3l3.9 4.5l3.4 3.5l3.3 3.2l15.1 13.2" stroke="#806000"/>
<path d="M284.5 347.1l2.3-3.2l2.2-3.7l8.4-15.5l8.9-15.5l3.9-7.3l3.4-7l6.7-15.8l8.9-23l10.6-29.8l8.4-26.3l2.8-7.5l3.3-8.4l4.5-9.7l2.8-5.2l2.2-3.8l1.7-2.3l2.2-2.4l1.7-1.4l1.1-0.6l2.3-0.3l2.2 0l1.7 0.4l1.7 1l2.2 2.1l2.2 2.6l2.3 3.3l2.2 4.1l1.7 3.4l1.1 2.8l3.3 9.2l10.1 26.2l6.7 18.3l4.5 11.2l2.7 6.6l2.8 6l3.9 7.4l3.4 5.7l2.8 4.1l3.9 5.1l3.4 3.8l3.9 4.1l6.1 5.4l15.1 11.9" stroke="#008b8b"/>
<path d="M284.5 349.7l1.7-2.3l2.2-3.5l9-16l11.7-18.9l4.5-8.3l4.4-9.3l7.9-17.5l5.5-13.7l9-23.5l6.1-18.4l2.3-6.3l3.9-9.5l3.9-8.5l2.2-4.3l2.8-4.9l1.7-2.7l1.6-2.3l2.3-2.4l1.7-1.5l1.1-0.7l1.7-0.5l2.2-0.3l2.2 0l1.1 0.3l1.7 1l2.8 2.3l1.7 1.8l2.2 3.1l2.2 3.8l2.3 4.7l3.9 10.1l8.4 19.8l8.3 21.8l5.1 11.9l2.8 6.1l2.8 5.5l3.3 6l3.4 5.3l2.7 3.8l3.4 4l3.4 3.6l3.9 3.8l6.1 5l15.1 11" stroke="#532c2c"/>
<path d="M284.5 353.3l1.7-2.3l2.2-3.5l9.5-16.4l9.5-13.8l3.9-6.2l5.1-8.9l5.5-10.9l5.6-11.8l7.3-17l6.1-15.7l5.6-16.4l2.3-6.1l4.4-10.4l4.5-9l4.5-7.7l1.6-2.6l1.7-2.1l2.2-2.3l1.7-1.4l1.1-0.6l2.8-0.8l2.3-0.2l1.6 0.2l1.7 0.7l2.8 2l1.7 1.5l1.7 2l3.3 5.1l1.7 3.4l3.9 9.6l8.9 19.6l7.8 19.7l5.6 12.8l2.8 5.8l2.8 5.2l3.4 5.6l2.8 4.2l2.7 3.6l3.4 3.8l3.4 3.4l3.9 3.5l5.5 4.3l15.7 10.8" stroke="#5f5f08"/>
<path d="M284.5 353.6l1.7-2.3l2.2-3.5l9.5-16.4l9.5-13.9l3.9-6.1l5.1-8.9l5.5-10.9l5.6-11.8l7.3-17l6.1-15.7l5.6-16.4l2.3-6.1l4.4-10.5l4.5-9.1l4.5-7.7l1.6-2.6l1.7-2.2l2.2-2.3l1.7-1.4l1.1-0.6l2.3-0.6l2.2-0.3l1.7 0l1.7 0.6l2.2 1.5l2.2 1.8l1.7 1.9l1.7 2.3l2.2 3.6l1.7 3.4l3.9 9.6l8.9 19.7l7.8 19.7l5.6 12.8l2.8 5.8l2.8 5.2l3.4 5.7l2.8 4.2l2.7 3.6l3.4 3.8l3.4 3.4l3.9 3.6l5.5 4.3l15.7 10.8" stroke="#b34000"/>
<path d="M284.5 355.8l1.7-2.3l2.2-3.5l6.7-11.6l2.8-4.5l2.8-4l7.8-10.6l4-5.9l5.5-9.4l6.2-11.5l6.1-12.8l7.8-18.2l3.4-8.7l5.6-16.2l2.2-5.8l4.5-9.9l4.4-8.7l4.5-7.5l1.7-2.5l1.7-2l2.2-2.2l1.7-1.3l3.9-1.2l2.2-0.3l1.7 0.3l1.7 0.8l2.8 1.8l1.1 1l1.7 1.9l2.2 3.1l1.7 2.7l1.6 3.6l3.4 7.9l8.9 18.8l7.8 19.3l6.2 13.6l2.8 5.6l2.2 4l3.4 5.6l2.8 4.1l2.7 3.5l3.4 3.7l3.4 3.3l3.9 3.3l5.5 4.2l15.7 10.3" stroke="#3466a8"/>
</g>
<rect x="140.0" y="624.0" width="630.0" height="513.0" fill="none" stroke="#000" stroke-width="2"/>
<line x1="134.5" y1="1117" x2="140" y2="1117" stroke="#000" stroke-width="2" />
<line x1="129.5" y1="1068" x2="140" y2="1068" stroke="#000" stroke-width="2" />
<line x1="134.5" y1="1018" x2="140" y2="1018" stroke="#000" stroke-width="2" />
<line x1="129.5" y1="969" x2="140" y2="969" stroke="#000" stroke-width="2" />
<line x1="134.5" y1="920" x2="140" y2="920" stroke="#000" stroke-width="2" />
<line x1="129.5" y1="870" x2="140" y2="870" stroke="#000" stroke-width="2" />
<line x1="134.5" y1="821" x2="140" y2="821" stroke="#000" stroke-width="2" />
<line x1="129.5" y1="772" x2="140" y2="772" stroke="#000" stroke-width="2" />
<line x1="134.5" y1="722" x2="140" y2="722" stroke="#000" stroke-width="2" />
<line x1="129.5" y1="673" x2="140" y2="673" stroke="#000" stroke-width="2" />
<line x1="134.5" y1="624" x2="140" y2="624" stroke="#000" stroke-width="2" />
<line x1="139" y1="1137" x2="139" y2="1142" stroke="#000" stroke-width="2" />
<line x1="188" y1="1137" x2="188" y2="1147" stroke="#000" stroke-width="2" />
<line x1="237" y1="1137" x2="237" y2="1142" stroke="#000" stroke-width="2" />
<line x1="285" y1="1137" x2="285" y2="1147" stroke="#000" stroke-width="2" />
<line x1="334" y1="1137" x2="334" y2="1142" stroke="#000" stroke-width="2" />
<line x1="382" y1="1137" x2="382" y2="1147" stroke="#000" stroke-width="2" />
<line x1="431" y1="1137" x2="431" y2="1142" stroke="#000" stroke-width="2" />
<line x1="479" y1="1137" x2="479" y2="1147" stroke="#000" stroke-width="2" />
<line x1="528" y1="1137" x2="528" y2="1142" stroke="#000" stroke-width="2" />
<line x1="576" y1="1137" x2="576" y2="1147" stroke="#000" stroke-width="2" />
<line x1="625" y1="1137" x2="625" y2="1142" stroke="#000" stroke-width="2" />
<line x1="673" y1="1137" x2="673" y2="1147" stroke="#000" stroke-width="2" />
<line x1="722" y1="1137" x2="722" y2="1142" stroke="#000" stroke-width="2" />
<line x1="770" y1="1137" x2="770" y2="1147" stroke="#000" stroke-width="2" />
<text x="73.25" y="682.3" font-family="'Liberation Serif', serif" font-size="32" text-anchor="start" font-weight="normal" font-style="normal" fill="#000" >30μ</text>
<text x="73.25" y="781" font-family="'Liberation Serif', serif" font-size="32" text-anchor="start" font-weight="normal" font-style="normal" fill="#000" >20μ</text>
<text x="73.25" y="879.7" font-family="'Liberation Serif', serif" font-size="32" text-anchor="start" font-weight="normal" font-style="normal" fill="#000" >10μ</text>
<text x="106.25" y="978.4" font-family="'Liberation Serif', serif" font-size="32" text-anchor="start" font-weight="normal" font-style="normal" fill="#000" >0</text>
<text x="62.5" y="1077.1" font-family="'Liberation Serif', serif" font-size="32" text-anchor="start" font-weight="normal" font-style="normal" fill="#000" >-10μ</text>
<text x="162.67" y="1179" font-family="'Liberation Serif', serif" font-size="32" text-anchor="start" font-weight="normal" font-style="normal" fill="#000" >-1.0</text>
<text x="259.72" y="1179" font-family="'Liberation Serif', serif" font-size="32" text-anchor="start" font-weight="normal" font-style="normal" fill="#000" >-0.8</text>
<text x="356.77" y="1179" font-family="'Liberation Serif', serif" font-size="32" text-anchor="start" font-weight="normal" font-style="normal" fill="#000" >-0.6</text>
<text x="453.82" y="1179" font-family="'Liberation Serif', serif" font-size="32" text-anchor="start" font-weight="normal" font-style="normal" fill="#000" >-0.4</text>
<text x="550.87" y="1179" font-family="'Liberation Serif', serif" font-size="32" text-anchor="start" font-weight="normal" font-style="normal" fill="#000" >-0.2</text>
<text x="653.25" y="1179" font-family="'Liberation Serif', serif" font-size="32" text-anchor="start" font-weight="normal" font-style="normal" fill="#000" >0.0</text>
<text x="750.3" y="1179" font-family="'Liberation Serif', serif" font-size="32" text-anchor="start" font-weight="normal" font-style="normal" fill="#000" >0.2</text>
<text x="60.85" y="922.38" font-family="'Liberation Serif', serif" font-size="45" text-anchor="start" font-weight="bold" font-style="normal" fill="#000" transform="rotate(-90 60.85 922.38)">I / A</text>
<text x="427.05" y="1228" font-family="'Liberation Serif', serif" font-size="43" text-anchor="start" font-weight="bold" font-style="normal" fill="#000" >E / V</text>
<text x="77.6" y="626.2" font-family="'Liberation Serif', serif" font-size="44" text-anchor="start" font-weight="normal" font-style="normal" fill="#000" >(b)</text>
<g fill="none" stroke-width="2.5" stroke-linejoin="round">
<path d="M188 991.1l2.7-1.5l2.3-0.9l3-0.8l5-1l17.1-2.7l14.2-1.4l11.4-0.9l14.1-0.8l64.5-2.9l45-2.6l49.6-3.5l12.2-1.1l18-2.1l7.2-1l6.2-1.1l7.2-1.6l6.1-1.8l6.1-2.1l6.5-2.7l4.5-2.3l4.2-2.6l2.3-1.7l2.3-2l5.1-5.6l4.9-6.2l3.9-6.3l2.2-4.2l1.6-3.6l3.9-9.8l4.9-13.1l3.2-7.1l1.3-3.4l1.3-4.9l1.3-6.1l5.2-29.6l7.1-38l7.4-38.9l3.6-17.1l3.5-15.6l2-6.9l1.9-4.8l1.3-2.4l1.3-1.5l0.6-0.4l0.7-0.3l0.4 0.2l0.9 1.8l0.8 3.1l0.5 2.5l1.7 13.5l1.8 16.3l1.8 13.3l0.8 10.3l1.4 23.3l1.7 21.8l2.2 20.3l1.3 9.6l1.4 8.1l1.3 7.1l1.7 7.9l1.8 6.7l1.8 5.8l2.1 5.9l2.7 6.1l2.2 4.1l2.6 4.3l3.1 4.2l3.5 3.9l4 3.7l4.4 3.3l4.8 2.9l5.3 2.7l6.2 2.5l6.6 2.1l7 1.9l8.3 1.8l8.4 1.5l9.7 1.3l10.5 1.2l11.5 1.1l14.5 1.1l13.2 0.7M721.8 957l-5.3 1.5l-4.9 1.2l-12.3 2.2l-14.3 2.8l-20.1 3.1l-14.3 1.5l-19.2 1.2l-27 0.9l-11.4 0l-30.7-0.4l-34.8 0.1l-6.5 0.4l-8.6 0.9l-4.1 0.8l-4.2 1.1l-3.4 1.6l-2.9 2.1l-1.8 2.1l-2.1 3.4l-1.1 2.5l-2.5 7.6l-3.6 9.7l-1.1 4l-2.3 9.1l-1.8 6.2l-1.8 5.8l-1.6 4.1l-2.7 4.9l-1.3 1.9l-1.1 1.3l-0.9 0.8l-2.5 1.6l-1.4 0.7l-1.3 0.3l-1.1 0l-1.5-0.4l-4.3-1.9l-3.6-2.4l-5.1-4.6l-3-2.1l-6.4-3.6l-7.5-3.6l-11.8-4.9l-9.9-3.5l-9.1-2.7l-7.5-1.6l-31-4.7l-20.8-2.7l-25-2.7l-29.1-2.7l-20.3-1.6l-19-1.2l-25-1.1l-37.9-1.4" stroke="#ec3035"/>
<path d="M188 993.7l2.7-1.6l2.3-1.1l3-0.9l5-1.1l17.5-3l13.8-1.5l21.3-1.5l88.5-4.6l53.1-3.4l27.8-2.1l26.7-2.8l7-1l6.8-1.3l6.8-1.5l5.5-1.6l5.8-2.1l5.5-2.4l4.6-2.4l4.2-2.8l2.2-1.8l2.6-2.5l5.5-6.1l2.6-3.3l2-2.7l3.9-6.5l2.6-5.3l3.8-9.8l8.1-22l1.3-4l1.7-6.4l1.9-10l16.5-98.4l2.9-16.2l2.6-13.1l3.9-18l1.3-5.1l1-3.1l1.6-4.1l1.3-2.6l1.3-1.6l1-0.8l0.6-0.2l0.4 0.2l0.5 0.8l0.8 2.5l0.9 4.3l0.5 3.3l3 28l2.2 18.1l1.8 25.4l2.2 23.8l2.6 21l2.6 15.8l1.8 8.6l2.2 9.1l1.8 6.3l2.2 6.7l2.6 7l2.2 5l3.1 6l3 5.1l3.5 5l4 4.7l3.9 3.9l4.4 3.7l4.4 3.1l4.9 2.9l5.2 2.3l5.7 2.1l7.1 2.1l7.9 2l8.3 1.6l9.2 1.4l10.1 1.2l11.4 1.2l14.5 1.1l12.8 0.7M721.8 953.8l-5.6 2l-4.8 1.4l-23.5 5.2l-17.5 3l-14.3 1.8l-19.9 1.5l-24.3 1.2l-9.5 0.2l-34.6 0.2l-34.7 1l-7.9 0.7l-7.6 1l-4 0.9l-3.5 1.3l-1.7 0.9l-1.4 1l-3 2.8l-1.9 2.9l-1.9 4l-1.3 3.9l-5.4 19.9l-5.5 24.8l-1.7 6.4l-1.7 5.4l-2.5 6.8l-1.5 3l-1.5 1.8l-1.7 1.6l-1.2 0.9l-1.3 0.3l-1.3-0.1l-1.3-0.4l-1.7-0.7l-1-0.8l-4.3-4.2l-7.6-8.9l-4.3-4.4l-4-3.3l-6.9-4.5l-4.3-2.4l-4.7-2.3l-9.9-4.3l-15.2-5.5l-4.7-1.5l-4.6-1.1l-7.3-1.4l-23.9-4l-20.8-3l-26.4-3.2l-31.4-3.3l-19.4-1.7l-18.5-1.1l-28.3-1.2l-35.1-1.2" stroke="#1462de"/>
<path d="M188 996.3l2.7-1.8l2.3-1.1l3-1l5-1.2l17.5-3.3l13.8-1.6l20.6-1.6l103.4-5.9l49.6-3.2l23.6-1.9l23.7-2.5l6.9-1l6.7-1.3l5.4-1.3l5.1-1.5l5.7-2.2l4.1-1.9l4.2-2.4l4.1-2.9l2.5-2.2l2.6-2.5l2.8-3.2l3.2-3.9l4.1-5.8l3.5-6l2.6-5.8l5.4-14.2l3.2-9.5l2.8-9.6l2.6-10.9l2.8-16.2l5.1-32.7l10.2-69.9l2.5-15.6l2.6-14.1l3.8-19.2l1.2-5.5l1-3.2l1.6-4.3l1.6-3.3l1.2-1.6l1-0.7l0.6-0.3l0.4 0.2l0.9 2l0.9 3.3l0.5 2.5l3.5 32.9l2.3 18.4l1.7 20.5l2.3 20.4l2.6 19.2l1.8 10.5l1.8 9.2l2.2 10.1l2.3 8.8l2.6 9l2.7 8l2.7 6.9l3.5 7.9l3.2 6l3.1 5.1l4 5.9l3.5 4.4l4.5 4.7l4.9 4.4l4.4 3.4l3.6 2l5.8 2.9l5.8 2.4l7.1 2.3l7.1 1.9l8.5 1.8l8.9 1.6l9.8 1.2l10.7 1.1l14.3 1.2l12 0.6M721.8 942.7l-5.8 3.6l-5.4 2.7l-6.2 2.6l-11.1 4.2l-5 1.6l-7 1.7l-7.7 1.7l-7.3 1.3l-8.5 1.3l-11.9 1.3l-12.7 1.4l-11.6 1l-11.1 0.7l-36.3 1.6l-36.5 2.3l-8.5 1l-5.8 1l-3.1 0.9l-3.4 1.7l-1.4 1l-1.5 1.5l-2.8 3.6l-1.9 3.9l-1.8 4.9l-3 12.6l-3.9 19l-1.6 8.3l-3.1 18.8l-3 14.1l-2.3 10l-1.2 3.8l-1.8 3.1l-0.9 1.4l-1 1.1l-0.8 0.6l-0.8 0.2l-1-0.2l-1.5-0.6l-1.8-1.2l-0.7-0.7l-4.4-6.6l-9.5-15.1l-4.3-6.2l-2.2-2.8l-2.2-2.3l-2.9-2.7l-3.3-2.7l-4-2.9l-4-2.6l-4.7-2.8l-4.8-2.4l-6.5-2.8l-10.6-4l-6.5-2.3l-5.1-1.6l-5.1-1.3l-7-1.4l-25.9-4.5l-14.4-2.2l-19.9-2.7l-26.8-3.1l-16.2-1.8l-18.9-1.6l-19-1l-29.1-1l-33.8-0.8" stroke="#23a05c"/>
<path d="M188 999l2.7-2l2.3-1.3l3-1.1l5-1.3l17.5-3.6l13.8-1.7l12.9-1.1l39.7-2.6l84-5.1l43.1-2.7l25.1-2.1l20.2-2.2l7.2-1.1l6.5-1.3l4.9-1.2l4.9-1.7l4.6-1.8l3.9-1.9l4.2-2.7l3.9-2.9l2.6-2.3l2.7-2.7l5.8-6.7l3.9-5.4l3.3-5.5l2.6-5.8l5.5-14.2l2.7-7.7l2.2-8.1l2-8.1l1.9-9.3l2-10.8l2-12.1l4.2-28.2l10.4-76.8l2.3-14.6l2.6-15l3.9-20.3l1.3-5.8l1-3.5l1.6-4.5l1.7-3.4l0.6-1l1-1.1l1-0.8l0.6-0.2l0.4 0.2l0.9 2l0.9 3.3l0.4 2.4l4 38.2l4.8 41.3l3.5 23.7l2.2 12.2l2.1 10.9l2.7 11.5l2.1 8.6l3.1 10.5l3.1 9.2l3.5 9l3 7l3.5 6.9l4 6.8l3.4 5.2l4.4 5.5l4.4 4.8l4.4 4.1l4.8 3.5l5.2 3.2l4.8 2.5l6.1 2.6l6.2 2.2l6.1 1.7l7.8 1.9l8.3 1.5l9.2 1.3l9.6 1l13.1 1.1l11 0.6M721.8 935.9l-5.7 4.5l-5.3 3.4l-6.4 3.5l-9 4.2l-4.2 1.8l-6 1.9l-6.8 1.8l-7.1 1.7l-6.8 1.2l-7.6 1.2l-19.2 2.6l-11.7 1.3l-9.4 0.9l-18.1 1.1l-17.3 1.4l-40.4 3.7l-8.3 1.1l-5.2 1.1l-3.1 1.1l-2.9 1.8l-1.4 1.2l-1.4 1.5l-2.8 4l-2 4.3l-2 5.9l-1.2 5.1l-1.8 8.7l-2.6 14.5l-2.4 12.2l-3.5 23.9l-3.6 20l-2.4 12.1l-1 3.4l-2 4.1l-1.6 2.3l-0.8 0.6l-0.8 0.3l-1.1-0.2l-1.5-0.8l-1.9-1.5l-0.7-0.9l-13.6-26.1l-5.3-9.3l-2.3-3.5l-1.9-2.5l-3-3.3l-3.4-3.3l-4.2-3.6l-4.1-3.1l-4.9-3.3l-5-2.9l-4.5-2.1l-5.3-2.2l-13.2-5.3l-6.4-2.3l-5.7-1.6l-7.2-1.6l-24.4-4.4l-12.5-2l-22.7-3.2l-29.6-3.6l-15.7-1.7l-19-1.6l-19.9-0.8l-28.6-0.8l-32.4-0.3" stroke="#ad72e4"/>
<path d="M188 1001.4l1.5-0.9l2.7-2.3l2.1-0.5l2.3-1.3l2.3-0.2l2.3-1.1l2.4-0.1l2.3-1l2.3 0l2-0.9l0.8-0.1l1.5 0.1l2.4-1l2.3 0l2.4-1l2.4 0.2l1.9-0.8l0.8-0.1l2 0.2l1.6-0.6l0.8-0.1l2 0.2l2.4-0.7l2.4 0.2l2.4-0.7l2 0.4l2.3-0.7l2.4 0.3l2.4-0.7l2 0.4l2.4-0.7l2.4 0.4l2.4-0.7l2 0.4l2.4-0.7l2.4 0.3l2.4-0.7l1.6 0.3l0.8 0l2-0.6l2.4 0.3l2.4-0.6l2.4 0.3l2-0.7l2.3 0.4l2.4-0.7l2.4 0.3l2-0.6l2.4 0.3l2.4-0.6l2.4 0.3l2-0.7l2.4 0.4l2.4-0.7l2.4 0.3l2-0.6l2.4 0.4l2.4-0.7l2.4 0.3l2.4-0.6l2 0.4l2.4-0.7l2.4 0.4l1.9-0.7l2.4 0.4l2.4-0.7l2.4 0.4l2.4-0.6l2 0.3l2.4-0.6l2.4 0.4l2.4-0.7l2 0.4l2.4-0.6l2.4 0.3l2.4-0.6l2 0.3l2.4-0.6l2.4 0.4l2.4-0.7l2 0.4l2.4-0.6l2.4 0.3l2.4-0.6l2 0.3l2.4-0.6l2.4 0.3l2.3-0.6l2 0.4l2.4-0.7l2.4 0.4l2.4-0.7l2 0.4l2.4-0.6l2.4 0.3l2.4-0.6l2.4 0.3l2-0.6l2.4 0.3l2.4-0.6l2.4 0.3l2-0.6l2.4 0.3l2.4-0.7l2.4 0.3l2-0.6l2.4 0.3l2.3-0.7l2.4 0.3l2.4-0.7l2 0.4l2.4-0.7l2.4 0.3l2.4-0.8l2 0.3l2.4-0.7l2.4 0.3l2.3-0.8l2 0.3l2.4-0.8l2.4 0.2l2.4-0.8l2.4 0.2l1.9-0.7l2.4 0.1l2.4-0.9l2.3 0l2.4-1l2.3-0.1l2.3-1.1l2.3-0.3l2.3-1.3l2.2-0.4l2.2-1.4l2.5-0.8l2.4-2l2.3-1.1l2.3-2.1l2.1-1.3l2.4-2.6l2.2-1.8l2.5-3.2l2.3-2.2l2-3l2.6-3l2.2-3.9l1.9-3l4.9-11.8l4.3-11.6l1.2-4l2.3-9.1l1.9-8.3l3.6-19.7l4.9-31.2l4.4-34.1l7.4-59.2l4.7-30.4l4.4-24l1-4.5l1-3.6l1.9-5.6l1.2-2.6l0.8-1.2l2.3-2.3l0.7-0.4l0.4 0.2l0.2 0.3l0.6 1.6l1.3 6.2l4.8 46.6l4.3 30.1l4.7 26.8l4.5 21.1l4.9 19.4l4.8 15.7l4.9 13l1.8 4l2.2 5.2l2.3 4.2l2.7 5.4l2 3l2.2 3.8l2.3 2.8l2.4 3.7l2.3 2.3l2.1 2.8l2.6 2.1l2 2.4l2.4 1.6l2.2 2.2l2.6 1.5l2.3 2l2 0.8l2.5 1.9l2.1 0.6l2.5 1.7l2.2 0.6l2.2 1.4l2.6 0.5l2.2 1.4l2.3 0.2l2.3 1.2l2.3 0.1l2.3 1.2l2.4 0.1l1.9 0.9l0.8 0.1l1.6-0.1l2.3 1l2.4-0.1l2.3 0.9l2.4-0.1l2 0.8l0.8 0l1.6-0.2l2.3 0.8l2.4-0.2l2.4 0.8l2.4-0.3l1.6 0.6l0.8 0.1l2-0.3l2.4 0.7l2-0.3l0.8 0.1l1.6 0.6l2.8-0.3l2 0.6l1.9-0.3l0.8 0l1.6 0.6l2.4-0.4l0.8 0.1M721.8 928.7l-1.7 1.3l-2.6 3l-2.1 1.4l-2.4 2.5l-2.2 1.2l-2 1.9l-2.6 1.3l-2.4 2l-2.1 0.7l-2.4 1.9l-2.4 0.9l-2.2 1.6l-2.1 0.6l-2.6 1.6l-2.2 0.3l-2.3 1.3l-2.3 0.3l-2.3 1.2l-2.3 0.2l-2.3 1.1l-2.3 0.1l-2.4 1l-1.9 0l-2.8 1l-1.9-0.1l-2.4 0.9l-2.3 0l-2.4 0.8l-2.4-0.1l-2 0.8l-2.3-0.1l-2.4 0.9l-2.4-0.1l-2.3 0.9l-2.4-0.1l-2 0.8l-2.3-0.1l-2.4 0.8l-2.4-0.1l-2.4 0.8l-1.6-0.2l-0.7 0.1l-2 0.7l-2.4-0.2l-2 0.6l-0.8 0.1l-2-0.3l-2 0.7l-2.4-0.3l-2.4 0.7l-2.4-0.3l-1.9 0.7l-2.4-0.3l-2.4 0.7l-2.4-0.2l-2 0.6l-2.4-0.2l-2.4 0.7l-2.4-0.2l-2.4 0.7l-1.9-0.2l-2.4 0.7l-2.4-0.2l-2.4 0.8l-2-0.3l-2.4 0.8l-2.4-0.3l-2.3 0.8l-2.4-0.2l-2.4 0.8l-2-0.3l-2.4 0.8l-2.4-0.2l-2.3 0.7l-2-0.2l-2.4 0.7l-2.4-0.2l-2.4 0.8l-2.4-0.2l-1.9 0.8l-2.4-0.2l-2.4 0.9l-2.4-0.1l-2.3 0.9l-2 0l-0.7 0.2l-1.6 0.9l-1.8 0.3l-1.1 0.6l-1.6 1.5l-1.8 1.3l-0.8 0.7l-4 6.1l-1.5 3.8l-2.7 8.8l-1.9 9l-3.2 19.2l-3 17l-3.4 24.8l-5.9 36l-0.9 3.3l-2.7 6.4l-1.1 1.7l-0.6 0.4l-0.6 0.2l-2.4 0l-0.7-0.3l-2-1.8l-1.1-1.5l-1.2-2.2l-2.5-6l-2.2-4.2l-2.5-5.9l-2.3-4.2l-2.1-4.8l-2.4-4.6l-2.7-5.8l-1.9-3.1l-2.5-4.5l-2.2-2.4l-2-3l-2.5-2.1l-2.3-2.8l-2.3-1.6l-2.4-2.6l-2.2-1.2l-2.3-2.2l-2.3-1.1l-2.3-2l-2.4-1l-2.1-1.6l-2.5-0.8l-2.2-1.6l-2.5-0.7l-2.2-1.5l-2.2-0.5l-2.1-1.5l-2.6-0.6l-2.2-1.5l-2.2-0.5l-2.5-1.7l-2.2-0.4l-2.2-1.5l-2.3-0.3l-2.2-1.3l-2.7-0.4l-2.3-1.1l-1.6 0l-0.7-0.1l-2-1l-2.3 0l-2.4-1l-2.3 0l-2.4-1l-1.9 0.1l-2.8-1l-1.5 0.1l-0.8-0.1l-2-0.9l-2.3 0l-2.4-0.9l-2.4 0l-2.3-0.9l-2.4 0l-2.3-0.9l-2 0.2l-2.4-0.9l-2.3 0.1l-2.4-0.9l-2 0.1l-2.3-0.8l-2.4 0.1l-2.4-0.9l-2.4 0.2l-1.9-0.8l-0.8-0.1l-1.6 0.2l-2.4-0.8l-2.4 0.2l-2.4-0.8l-2.3 0.2l-2-0.8l-2.4 0.2l-2.4-0.8l-2.4 0.2l-2.3-0.9l-2 0.3l-2.4-0.8l-2.4 0.1l-2.4-0.8l-2.3 0.2l-2-0.7l-2.4 0.2l-2.4-0.8l-2.4 0.2l-1.9-0.7l-0.8-0.1l-1.6 0.3l-2.4-0.8l-2.4 0.3l-2.4-0.8l-2 0.3l-2.4-0.7l-2.4 0.3l-2.4-0.7l-2.4 0.3l-1.5-0.5l-0.8-0.1l-2 0.4l-2.4-0.7l-2.4 0.4l-1.6-0.5l-0.8-0.1l-2 0.5l-2.4-0.6l-2.4 0.4l-2.4-0.5l-2 0.4l-2.4-0.6l-2.4 0.4l-2.4-0.5l-2 0.4l-2.4-0.5l-2.4 0.4l-2-0.5l-2.4 0.4l-2.4-0.5l-2.4 0.4l-2-0.5l-2.4 0.5l-2.4-0.5l-2.4 0.5l-2-0.5l-2.4 0.4l-2.4-0.5l-2.4 0.5l-2-0.4l-2.4 0.5l-2.4-0.5l-2 0.4l-0.8 0l-1.6-0.4l-2.4 0.5l-2.4-0.5l-2 0.5l-0.8 0" stroke="#cc9712"/>
</g>
<line x1="226.3" y1="655.4" x2="285.2" y2="655.4" stroke="#ec3035" stroke-width="2.4" />
<text x="291.25" y="664.7" font-family="'Liberation Serif', serif" font-size="26.5" text-anchor="start" font-weight="normal" font-style="normal" fill="#000" >3.08 mg/mL</text>
<line x1="226.3" y1="688.13" x2="285.2" y2="688.13" stroke="#1462de" stroke-width="2.4" />
<text x="292" y="697.43" font-family="'Liberation Serif', serif" font-size="26.5" text-anchor="start" font-weight="normal" font-style="normal" fill="#000" >4.27 mg/mL</text>
<line x1="226.3" y1="720.86" x2="285.2" y2="720.86" stroke="#23a05c" stroke-width="2.4" />
<text x="291" y="730.16" font-family="'Liberation Serif', serif" font-size="26.5" text-anchor="start" font-weight="normal" font-style="normal" fill="#000" >5.29 mg/mL</text>
<line x1="226.3" y1="753.59" x2="285.2" y2="753.59" stroke="#ad72e4" stroke-width="2.4" />
<text x="291.25" y="762.89" font-family="'Liberation Serif', serif" font-size="26.5" text-anchor="start" font-weight="normal" font-style="normal" fill="#000" >6.17 mg/mL</text>
<line x1="226.3" y1="786.32" x2="285.2" y2="786.32" stroke="#cc9712" stroke-width="2.4" />
<text x="291.25" y="795.62" font-family="'Liberation Serif', serif" font-size="26.5" text-anchor="start" font-weight="normal" font-style="normal" fill="#000" >6.93 mg/mL</text>
<rect x="137.0" y="1253.0" width="631.0" height="513.0" fill="none" stroke="#000" stroke-width="2"/>
<line x1="126.5" y1="1734" x2="137" y2="1734" stroke="#000" stroke-width="2" />
<line x1="131.5" y1="1670" x2="137" y2="1670" stroke="#000" stroke-width="2" />
<line x1="126.5" y1="1605" x2="137" y2="1605" stroke="#000" stroke-width="2" />
<line x1="131.5" y1="1541" x2="137" y2="1541" stroke="#000" stroke-width="2" />
<line x1="126.5" y1="1477" x2="137" y2="1477" stroke="#000" stroke-width="2" />
<line x1="131.5" y1="1413" x2="137" y2="1413" stroke="#000" stroke-width="2" />
<line x1="126.5" y1="1349" x2="137" y2="1349" stroke="#000" stroke-width="2" />
<line x1="131.5" y1="1285" x2="137" y2="1285" stroke="#000" stroke-width="2" />
<line x1="137" y1="1766" x2="137" y2="1771" stroke="#000" stroke-width="2" />
<line x1="186" y1="1766" x2="186" y2="1776" stroke="#000" stroke-width="2" />
<line x1="234" y1="1766" x2="234" y2="1771" stroke="#000" stroke-width="2" />
<line x1="283" y1="1766" x2="283" y2="1776" stroke="#000" stroke-width="2" />
<line x1="331" y1="1766" x2="331" y2="1771" stroke="#000" stroke-width="2" />
<line x1="380" y1="1766" x2="380" y2="1776" stroke="#000" stroke-width="2" />
<line x1="428" y1="1766" x2="428" y2="1771" stroke="#000" stroke-width="2" />
<line x1="477" y1="1766" x2="477" y2="1776" stroke="#000" stroke-width="2" />
<line x1="525" y1="1766" x2="525" y2="1771" stroke="#000" stroke-width="2" />
<line x1="574" y1="1766" x2="574" y2="1776" stroke="#000" stroke-width="2" />
<line x1="622" y1="1766" x2="622" y2="1771" stroke="#000" stroke-width="2" />
<line x1="671" y1="1766" x2="671" y2="1776" stroke="#000" stroke-width="2" />
<line x1="719" y1="1766" x2="719" y2="1771" stroke="#000" stroke-width="2" />
<line x1="768" y1="1766" x2="768" y2="1776" stroke="#000" stroke-width="2" />
<text x="46.25" y="1359.2" font-family="'Liberation Serif', serif" font-size="32" text-anchor="start" font-weight="normal" font-style="normal" fill="#000" >40.0μ</text>
<text x="46.25" y="1487.5" font-family="'Liberation Serif', serif" font-size="32" text-anchor="start" font-weight="normal" font-style="normal" fill="#000" >20.0μ</text>
<text x="79.25" y="1615.8" font-family="'Liberation Serif', serif" font-size="32" text-anchor="start" font-weight="normal" font-style="normal" fill="#000" >0.0</text>
<text x="35.5" y="1744.1" font-family="'Liberation Serif', serif" font-size="32" text-anchor="start" font-weight="normal" font-style="normal" fill="#000" >-20.0μ</text>
<text x="160.37" y="1808.2" font-family="'Liberation Serif', serif" font-size="32" text-anchor="start" font-weight="normal" font-style="normal" fill="#000" >-1.0</text>
<text x="257.4" y="1808.2" font-family="'Liberation Serif', serif" font-size="32" text-anchor="start" font-weight="normal" font-style="normal" fill="#000" >-0.8</text>
<text x="354.43" y="1808.2" font-family="'Liberation Serif', serif" font-size="32" text-anchor="start" font-weight="normal" font-style="normal" fill="#000" >-0.6</text>
<text x="451.46" y="1808.2" font-family="'Liberation Serif', serif" font-size="32" text-anchor="start" font-weight="normal" font-style="normal" fill="#000" >-0.4</text>
<text x="548.49" y="1808.2" font-family="'Liberation Serif', serif" font-size="32" text-anchor="start" font-weight="normal" font-style="normal" fill="#000" >-0.2</text>
<text x="650.85" y="1808.2" font-family="'Liberation Serif', serif" font-size="32" text-anchor="start" font-weight="normal" font-style="normal" fill="#000" >0.0</text>
<text x="747.88" y="1808.2" font-family="'Liberation Serif', serif" font-size="32" text-anchor="start" font-weight="normal" font-style="normal" fill="#000" >0.2</text>
<text x="32.05" y="1560.28" font-family="'Liberation Serif', serif" font-size="45" font-weight="bold" transform="rotate(-90 32.05 1560.28)"><tspan font-style="italic">I</tspan> / A</text>
<text x="387.05" y="1852" font-family="'Liberation Serif', serif" font-size="43" text-anchor="start" font-weight="bold" font-style="normal" fill="#000" >E / V</text>
<text x="64.8" y="1283.1" font-family="'Liberation Serif', serif" font-size="44" text-anchor="start" font-weight="normal" font-style="normal" fill="#000" >(c)</text>
<g fill="none" stroke-width="2.5" stroke-linejoin="round">
<path d="M185.7 1618.7l4.2-0.7l4.2-0.5l17.9-1.4l21.4-1.4l22.5-1l56.1-1.7l129.7-3.2l16.4-0.7l7.6-0.6l8.7-1l6.9-1.1l6.9-1.3l5.8-1.5l5.4-1.7l5.8-2.2l4.4-2.1l4.3-2.7l4-3.2l2.9-3.5l3.2-5l3.3-5.7l2.5-5.2l8.7-20.2l2.9-7.3l2.9-8.7l3.3-11.7l17.3-69.7l7.6-29.7l1.9-5.5l1.8-4.4l0.7-1.3l1.1-1.5l0.7-0.8l0.4-0.1l0.4 0.1l0.8 1.2l1.6 4l1.6 6.7l1.2 6.9l4.4 38.1l2.8 32.6l2 14.3l2.4 13.5l1.6 7.3l1.6 6.3l1.6 5.4l2 5.8l2 4.8l2 4.2l2.4 4.2l2.4 3.5l3.2 3.8l2.8 2.8l3.6 2.9l3.7 2.5l4 2.1l5.2 2.2l4.4 1.5l5.6 1.5l6 1.2l6 1l8 1.1l8.1 0.8l18.4 1.2l15.6 0.7l12.9 0.3M719.4 1599.2l-9.8 1.6l-8.9 1.1l-12.8 1.2l-10.5 0.6l-54.8 1.7l-98 1.2l-9.3 0.6l-3.5 0.4l-2.5 0.6l-3 1.1l-1.2 0.6l-0.6 0.5l-2 2.4l-2.6 4.3l-2.4 5.3l-1.9 5.6l-1.1 4.1l-2 9.5l-1.5 6.1l-1.4 4.8l-2.5 7.3l-1.1 2.1l-1.8 1.8l-2.4 1.3l-1.9 0.5l-2.2-0.2l-4.3-1.1l-3.2-1.1l-3.2-1.4l-3.6-1.9l-7.5-5.1l-4.3-2.3l-8.5-4.1l-10.4-4.4l-6.8-2.4l-12.5-3.9l-6.8-1.7l-6.4-1.2l-20.4-2.3l-16.5-2.6l-6.7-0.9l-21.6-2l-20-1.4l-15-0.7l-22.2-0.8l-92.1-2" stroke="#464646"/>
<path d="M185.7 1621.6l4.2-0.9l4.6-0.7l12.2-1.2l19.1-1.5l23.2-1.4l20.2-0.8l83.6-3l45.4-1.8l47.7-1.6l13.1-0.7l7.8-0.8l6.7-1l9-1.7l7-1.8l5.2-1.6l5.2-2l6-2.8l4.4-2.5l2.6-1.7l1.9-1.6l1.9-1.8l2.2-2.5l3.3-4.6l3.4-6l3.3-7.4l3-7.5l10-29.2l4.5-14.8l4.8-19.1l11.9-50.1l10.8-49.3l1.9-7.8l1.5-5.3l1.8-5.4l1.9-3.6l0.7-1.1l0.8-0.5l0.3 0.1l0.8 1.2l1.6 4l1.2 5.1l1.5 9.3l4.3 38.5l2.4 27.6l0.8 7.3l2.7 20.1l3.1 18.1l1.6 7.4l2 8.2l1.9 7l2.4 7.4l2.3 6.2l2.3 5.5l2.4 4.6l2.7 4.8l3.2 4.5l3.5 4.3l3.5 3.6l3.9 3.3l4.3 2.9l3.1 1.7l4.7 2.1l5.5 2l5.5 1.6l5.9 1.3l7.4 1.3l7.8 1.1l9.4 0.9l9.8 0.7l12.5 0.7l10.6 0.4M719.4 1595.8l-10.5 2.8l-9.8 2l-9.7 1.5l-11.6 1l-15.6 0.8l-37.3 1.4l-76.2 1.8l-18.3 0.5l-8.1 0.4l-5.5 0.4l-4.5 0.6l-2.6 0.7l-3.5 1.6l-2.3 1.7l-2.1 2.9l-2.2 4.2l-2.1 5.4l-2.5 7.9l-2.1 8.6l-2.3 10.9l-1.5 6.2l-2.3 8.5l-2.3 7.1l-1.2 2.7l-0.8 1.1l-0.8 0.8l-1.2 1l-1.5 0.8l-1.4 0.5l-1.1 0.2l-1.4-0.2l-2.1-0.6l-5.5-2.3l-4.2-2l-3.4-2.2l-6.2-4.5l-3.5-2.3l-9.6-6l-6.9-3.8l-5.5-2.8l-4.9-2.2l-6.5-2.8l-9-3.3l-8.6-2.4l-8.7-2l-26.1-5.4l-8.9-1.5l-21.1-2.8l-16.1-1.7l-15.5-1.2l-17.2-1l-20.6-1l-79.3-2.8" stroke="#ec3035"/>
<path d="M185.7 1624.5l3.8-1l4.6-0.9l9.9-1.3l16.4-1.5l23.3-1.6l21.3-1.1l80.2-3.5l51.4-2.8l50.8-2.1l12.5-0.8l7.6-1l6-1l10.3-2.4l6.8-1.9l4.9-1.8l5.3-2.4l6.1-3.3l4.1-2.6l3.8-3l2.7-2.9l3.8-5.3l3.4-5.8l2.6-5.6l2.7-6.8l3-8.8l3.4-10.9l9.1-31l3-11.5l3.4-14.1l13.3-57.6l3-14.5l8-40.2l2.2-10l1.6-5.6l1.5-4.5l1.9-4.1l0.7-1.1l0.8-0.6l0.4 0.2l0.7 1.2l1.6 4.1l1.1 5.4l1.6 10l3.8 35.1l2.7 30.8l1.5 14.2l3.1 23.3l1.5 9.8l2 10.8l1.9 9.5l1.9 8.4l2.3 8.8l2.3 7.7l2.3 6.7l2.7 6.7l2.3 5.1l2.7 5.1l3.1 5l3.4 4.8l3.5 4l3.8 3.8l2.7 2.1l4.6 2.8l3.9 1.9l5.4 2.2l5.3 1.8l5.8 1.5l6.9 1.4l7.3 1.1l8.9 1l9.2 0.8l12.3 0.8l10 0.4M719.4 1592.4l-5.5 2.2l-5 1.8l-4.7 1.4l-5.8 1.5l-8.6 1.7l-6.2 0.9l-6.2 0.6l-17.1 1.1l-35 1.7l-28.8 1l-44.7 1.3l-17.9 0.7l-17.1 1.1l-4.5 0.6l-2.6 0.8l-3.8 2.1l-2.2 1.8l-1.2 1.4l-1.3 2l-1.8 3.6l-2.3 6l-2.5 8.5l-1.6 6.7l-4.7 21.1l-3.6 14.2l-2.5 7.9l-1.3 3.2l-1.3 1.9l-1.5 1.2l-1.7 1l-1.4 0.6l-1.4 0.2l-1.4-0.2l-2-0.7l-10.4-5.2l-3.3-2.2l-11.4-8.5l-6.7-4.7l-12-7.4l-4.7-2.5l-5-2.4l-9.4-4l-15.7-5.7l-11.8-3.5l-16-4.1l-12.2-2.5l-19.4-3.2l-15.6-2.1l-14.9-1.6l-18.3-1.5l-22.2-1.4l-41.7-2.2l-33.8-1.6" stroke="#1462de"/>
<path d="M185.7 1627.3l4.2-1.2l4.6-1l8.4-1.3l14.8-1.6l22.2-1.8l22.1-1.3l37.4-1.8l38.9-2l22.1-1.4l37.4-2.8l50.3-2.4l12.3-0.9l7.7-1.1l5.4-1l11.1-3.1l6.5-2l4.7-1.9l5-2.4l6.1-3.6l4.6-3.1l3.9-3.3l2.6-3.2l3.5-5.4l3.8-7l2.4-5l1.9-5l3-9.5l3.1-10.3l7.3-26.9l5.4-20.8l15-65.1l5-23.4l9.6-51.4l2.3-10.7l1.5-6l1.6-4.7l1.9-4.3l0.8-1.2l0.7-0.6l0.4 0.1l0.8 1.2l1.1 2.9l0.8 2.6l0.7 4l1.5 10.2l3.1 27.5l1.5 15.5l1.9 21.9l2.2 21.2l3.1 23.3l1.9 12.5l1.9 11l1.8 9.8l1.9 8.8l2.3 9.3l2.3 8.3l2.3 7.1l2.6 7.4l2.7 6.4l3 6.3l2.6 4.8l3.4 5.2l3.5 4.5l3.7 4.1l3.8 3.1l4.2 2.8l4.5 2.4l4.6 2.1l4.9 1.9l6.1 1.7l6.4 1.5l6.4 1.2l8.4 1.1l8.7 0.9l11.7 0.8l9.9 0.5M719.4 1589.1l-5.5 2.8l-5 2.3l-4.7 1.8l-6.2 2l-4.3 1.2l-3.9 0.9l-5.8 0.9l-6.6 0.9l-17.9 1.4l-34.2 2l-29.2 1.3l-43.1 1.5l-17.5 0.9l-19.1 1.4l-4.3 0.6l-2.6 0.9l-2 1.1l-2.1 1.4l-2.1 1.9l-1.2 1.6l-1.4 2.2l-1.8 3.7l-2.4 6.7l-1.9 6.9l-2.3 9.4l-3.2 15.5l-1.7 7.8l-4.4 17.6l-2.7 8.6l-1.4 3.6l-0.7 1.3l-0.7 0.9l-1.5 1.3l-1.6 0.9l-1.6 0.7l-1.4 0.3l-1.6-0.2l-1.6-0.6l-11.8-6.7l-4.2-3.1l-12.7-10.5l-5.2-3.8l-10.5-7.2l-4.5-2.8l-4.3-2.3l-4.8-2.4l-5.3-2.4l-8.8-3.7l-7.1-2.8l-9.7-3.2l-14.4-4.1l-12.2-2.8l-20-3.7l-16.1-2.4l-14.9-1.8l-18.9-1.6l-22.2-1.5l-41.6-2.4l-33.3-1.6" stroke="#23a05c"/>
<path d="M185.7 1630.4l1.5-0.9l2.7-0.4l2.3-1l1.9-0.1l2.4-1l2.3 0l2.4-0.8l2.4 0l2-0.6l2.7 0l2-0.6l2.4 0.1l2.4-0.6l2.4 0.1l2-0.6l2.4 0.2l2.4-0.6l2.3 0.2l2.4-0.6l2 0.2l2.4-0.6l2.4 0.2l2.4-0.6l2 0.2l2.4-0.6l2.4 0.3l2-0.6l2.4 0.2l2.4-0.5l2.4 0.2l2.4-0.5l2.4 0.2l2-0.5l2.3 0.3l2.4-0.6l2.4 0.3l2-0.5l2.4 0.3l2.4-0.5l2.4 0.2l2-0.5l2.4 0.3l2.4-0.5l2.4 0.3l2-0.5l2.4 0.3l2.4-0.6l2 0.3l2.4-0.5l2.4 0.3l2.4-0.6l2.4 0.3l2-0.5l2.4 0.2l2.4-0.5l2.4 0.2l2-0.5l2.4 0.3l2.4-0.6l2.4 0.3l2.3-0.6l2 0.3l2.4-0.6l2.4 0.3l2.4-0.6l2 0.3l2.4-0.6l2.4 0.2l2.4-0.5l2 0.2l2.4-0.5l2.4 0.2l2.4-0.6l2 0.2l2.4-0.5l2.4 0.2l2.4-0.6l2.3 0.1l2-0.5l2.4 0.1l2.4-0.6l2.4 0.2l2-0.6l2.4 0.1l2.4-0.6l2.4 0.2l1.9-0.6l2.4 0.2l2.4-0.7l2.4 0.2l2-0.5l2.4 0.2l2.4-0.6l2.4 0.2l2-0.5l2.4 0.3l2.4-0.6l2.4 0.3l2.4-0.5l2 0.2l2.4-0.5l2.4 0.3l2.4-0.5l2.4 0.2l2-0.5l2.4 0.3l2.3-0.5l2.4 0.3l2-0.5l2.4 0.3l2.4-0.5l2.4 0.2l2-0.5l2.4 0.3l2.4-0.5l2 0.2l2.4-0.5l2.4 0.1l2.4-0.6l2.4 0.1l2-0.7l2.3 0.1l2.4-0.8l2.4-0.1l2.3-0.9l2.3-0.2l2.3-1.1l1.9-0.2l2.7-1.2l2.3-0.3l2.3-1.2l2.2-0.3l2.3-1.3l2.2-0.5l2.6-1.5l2.1-0.7l2.5-1.8l2-0.8l2.4-1.9l2.3-1.1l2.3-2l2.3-1.3l2.4-2.5l1.9-1.7l0.8-0.9l4-6.4l2.3-4.6l2.3-4.3l4.4-11.1l5-17.3l4.7-17.8l8.9-36.5l14.4-64.1l5-23.5l3.7-19.6l6.9-39.4l1.2-6.1l2.6-10.9l1.1-4l2.8-6.3l0.5-0.8l0.6-0.6l0.4 0l0.3 0.2l0.6 1.1l1.4 3.6l0.4 1.5l1.1 6.1l1.2 7.8l3 27.2l3.8 39.6l2.6 23.5l2.3 18.6l4.2 26.9l4.4 22l4.3 17.4l4.8 14.9l5 12.2l4.7 8.8l1.8 2.7l2.5 4.1l2.2 2.4l2.4 3.1l2.2 1.9l2.4 2.5l2.2 1.4l2.3 2l2.3 1.1l2.4 1.9l2.1 0.7l2.5 1.7l2.2 0.5l2.3 1.3l2.6 0.5l1.9 1l2.3 0.4l2.7 1.1l1.9 0.1l2.4 0.9l2.3 0.1l2.4 0.9l2.4 0l1.9 0.7l2.4-0.1l2.4 0.7l2.4-0.1l2.3 0.7l2.4-0.1l2 0.6l2.4-0.2l2.4 0.6l2.4-0.2l2 0.5l2.4-0.2l2.4 0.5l2.4-0.3l2.4 0.5M719.4 1585.6l-1.7 1.4l-2 0.9l-2.4 1.8l-2.5 1l-2.1 1.5l-2.5 0.9l-2.2 1.3l-2.2 0.6l-2.6 1.4l-1.9 0.3l-2.2 1.2l-2.7 0.4l-2.4 0.9l-1.9 0.1l-2.8 0.9l-1.9-0.1l-2.4 0.8l-2.4 0l-2.4 0.7l-1.9-0.2l-2.8 0.7l-2-0.2l-2.4 0.7l-2.4-0.2l-2 0.6l-2.4-0.2l-2.4 0.5l-2.4-0.2l-2 0.6l-2.4-0.3l-2.3 0.6l-2.4-0.2l-2.4 0.5l-2-0.2l-2.4 0.5l-2.4-0.2l-2.4 0.5l-2-0.2l-2.4 0.5l-2.4-0.2l-2.4 0.5l-2-0.3l-2.4 0.6l-2.4-0.3l-2 0.5l-2.4-0.3l-2.4 0.6l-2.4-0.3l-2.4 0.5l-2-0.3l-2.4 0.5l-2.4-0.2l-2.4 0.5l-2-0.3l-2.4 0.5l-2.4-0.3l-2 0.4l-2.3-0.2l-2.8 0.4l-2-0.3l-2.4 0.5l-2-0.3l-2.4 0.5l-2.4-0.3l-2.4 0.5l-2-0.4l-2.4 0.5l-2.4-0.3l-2.4 0.5l-2-0.3l-2.4 0.5l-2.4-0.3l-2.4 0.5l-2-0.3l-2.4 0.6l-2.4-0.3l-2.4 0.5l-2.4-0.2l-2 0.5l-2.4-0.2l-2.4 0.5l-2.4-0.2l-2 0.6l-2.4-0.3l-2.4 0.6l-2.4-0.2l-1.9 0.6l-2.4-0.2l-2.4 0.7l-2.4-0.1l-2.3 1l-2.2 0.6l-2.4 1.9l-1.6 0.9l-0.8 0.7l-3.8 5.3l-1.4 2.9l-3.1 8.6l-1.2 4.2l-3.5 14.8l-3.6 18.3l-5.8 23l-2.8 10l-1.6 4.2l-1.8 3.2l-1.6 1.4l-1.7 0.7l-1.8 1.1l-0.8 0.2l-0.8 0l-3.4-0.9l-2.6-2.1l-2.4-1.1l-2.1-1.6l-2.1-0.8l-2.4-1.9l-2.2-1.3l-2.5-2.4l-2.4-1.7l-2.3-2.5l-2.1-1.6l-2.4-2.5l-2.4-1.7l-2.1-2.2l-2.5-1.6l-2.2-2.2l-2.2-1.3l-2.2-2.1l-2.6-1.5l-2.3-2l-2.3-1.2l-2.4-1.9l-2-0.8l-2.5-1.8l-2.1-0.7l-2.1-1.5l-2.5-0.9l-2.5-1.6l-2.2-0.6l-2.2-1.4l-2.2-0.6l-2.2-1.3l-2.6-0.7l-2.2-1.4l-2.2-0.5l-2.2-1.2l-2.7-0.6l-2.2-1.2l-2.3-0.3l-2.3-1.2l-2.3-0.3l-2.3-1.1l-2.3-0.2l-2.3-1.1l-2.3-0.2l-2-0.9l-2.7-0.2l-2.3-1l-2.4-0.1l-1.9-0.8l-2.4-0.1l-2.3-0.9l-2.4-0.1l-2.3-0.8l-2.4-0.1l-2.4-0.9l-2.3 0l-2-0.8l-2.3 0l-2.4-0.8l-2.4 0l-1.9-0.7l-2.4 0l-2.8-0.9l-2 0.1l-2.3-0.7l-2.4 0l-2-0.6l-2.4 0.1l-2.4-0.7l-2.3 0.1l-2.4-0.6l-2 0.2l-2.8-0.7l-2 0.2l-2.4-0.6l-2.4 0.2l-2-0.6l-2.4 0.2l-2.3-0.6l-2.4 0.2l-2-0.5l-2.4 0.2l-2.4-0.6l-2.4 0.3l-2-0.6l-2.4 0.3l-2.4-0.6l-2.4 0.3l-2.4-0.6l-2 0.3l-2.4-0.5l-2.4 0.2l-2-0.5l-2.4 0.3l-2.4-0.6l-2.4 0.3l-2-0.5l-2.4 0.2l-2.4-0.5l-2.4 0.3l-2.3-0.6l-2 0.3l-2.4-0.5l-2.4 0.2l-2.4-0.5l-2 0.3l-2.4-0.5l-2.4 0.2l-2.4-0.5l-2 0.3l-2.4-0.5l-2.4 0.3l-2.4-0.5l-2 0.3l-2.4-0.5l-2.4 0.2l-2.4-0.5l-2 0.3l-2.4-0.5l-2.4 0.3l-2-0.4l-0.8 0" stroke="#ad72e4"/>
<path d="M185.7 1633.4l1.1-1l0.8-0.4l1.5 0.1l0.7 0l2.3-1.6l1.6 0.2l0.7 0l2-1.4l0.7-0.1l1.2 0.4l0.8 0l2-1.3l0.8 0.1l1.5 0.4l0.8-0.3l1.6-0.9l2.4 0.6l1.6-1l0.8-0.2l1.6 0.5l0.8 0l1.9-1.1l0.8 0.1l1.2 0.5l0.4 0.1l2.4-1.2l1.6 0.6l0.8 0.1l2-1.1l0.8 0l1.6 0.6l2.4-1.1l2 0.7l0.4 0l1.9-1.1l0.8 0.1l1.6 0.6l0.4-0.1l2-1l0.4 0l1.6 0.7l0.4 0l1.6-0.9l0.8-0.2l2 0.7l0.8-0.2l1.6-0.9l2.4 0.7l1.6-0.8l0.8-0.2l2 0.7l0.8-0.2l1.6-0.9l0.4 0.1l1.6 0.6l0.4 0.1l1.6-0.9l0.8-0.2l1.6 0.7l0.8 0l2-1l0.4 0.1l1.6 0.7l0.3 0l2-1l0.4 0l1.6 0.6l0.8 0.1l2-1l0.4 0l2 0.8l2-1l0.4 0l2 0.7l0.8-0.1l1.6-0.9l0.8 0.1l1.6 0.7l2.4-1.1l1.6 0.7l0.8 0.1l2-1l0.8 0.1l1.6 0.6l2.4-1l1.6 0.6l0.8 0.1l2-1l0.8 0.1l1.6 0.7l2.4-1.1l1.6 0.6l0.8 0.1l2-1l0.8 0.1l1.6 0.6l0.4 0l2-1l2 0.7l0.4 0l1.6-0.9l0.7-0.2l2 0.8l0.4-0.1l2-1l0.4 0l1.6 0.7l0.4 0l1.6-0.8l0.8-0.2l2 0.7l0.8-0.2l1.6-0.9l2.4 0.7l1.6-0.8l0.8-0.3l2 0.8l0.8-0.2l1.6-0.9l0.4 0l1.2 0.5l0.8 0.2l1.6-0.9l0.8-0.2l2 0.7l0.8-0.2l1.5-0.9l0.4 0l2 0.7l2.4-1.1l2 0.7l0.8-0.2l1.6-0.9l0.8 0l1.6 0.6l2.4-1.2l1.6 0.6l0.8 0l2-1.1l0.7 0.1l1.6 0.5l0.8-0.2l1.6-0.9l2.4 0.6l1.6-0.9l0.8-0.3l2 0.7l0.8-0.3l1.6-0.9l0.4 0l1.9 0.6l2.4-1.1l1.6 0.6l0.8 0l2-1l0.8 0l1.6 0.6l2.4-1.1l1.6 0.6l0.8 0.1l2-1l0.8 0.1l1.6 0.6l0.4-0.1l2-0.9l2 0.7l0.4 0l2-1l0.8 0.1l1.6 0.6l0.4 0l1.9-1l0.4 0l1.6 0.7l0.4 0l2-1l0.8 0.1l1.6 0.7l0.8-0.2l1.6-0.9l0.4 0.1l1.6 0.7l0.4 0l1.6-0.8l0.8-0.2l2 0.7l0.8-0.2l1.6-0.8l2.4 0.8l1.6-0.8l0.8-0.2l2 0.8l0.8-0.2l1.6-0.9l2.4 0.8l1.6-0.8l0.8-0.2l2 0.7l0.8-0.2l1.6-0.9l0.4 0l1.2 0.5l0.8 0.2l2-1.1l0.4-0.1l1.5 0.6l0.8 0l2-1.2l0.8 0l1.6 0.5l2.3-1.3l0.4 0l1.6 0.4l0.4 0l2.3-1.5l1.6 0.3l0.7 0l2.3-1.7l1.9 0.2l0.4 0l2.3-1.7l2.2 0.1l2.3-1.6l0.4-0.1l1.9 0.2l0.7-0.5l1.5-1.3l0.8-0.2l1.1 0.2l0.7-0.2l2.2-1.9l0.7-0.2l1 0l0.7-0.3l2.1-2.1l2.4-0.5l2.3-2.5l2-0.5l0.6-0.5l2-2.3l2.2-0.8l2.3-3l2-1.2l0.8-0.9l1.8-3.5l2.2-2.9l2.5-5.9l2.3-3.8l2.2-6l2.3-5.5l2.5-9.3l2.1-7.2l2.3-9.9l2.4-8.8l2.2-10.2l2.5-9.6l2.2-10.3l2.2-8.8l2.4-11.5l2.4-10l2.2-11.1l2.2-8.8l2.3-11.1l2.3-9.2l2.3-11.5l2.3-9.6l4.7-24.4l2.3-14.3l2.4-13.3l2.7-16.5l3.7-18.5l1.4-5.1l2.8-7.7l0.8-1.5l0.5-0.5l0.3-0.1l0.4 0.2l0.7 0.7l1.7 3l0.8 2.8l0.8 4.9l3.5 27.7l3.9 40.6l3.7 34.2l4.3 31.4l4.3 25.1l4.8 22l2.5 8.3l2.1 8.2l2.5 6.3l2.2 6.9l2.3 4.7l2.2 5.6l2.5 3.7l2.4 5l2.2 2.5l2.1 3.7l0.8 0.8l1.2 0.9l0.5 0.5l2.2 3.3l0.5 0.5l1.7 0.9l2.4 3l0.6 0.4l1.3 0.3l0.6 0.4l2 2.3l0.6 0.4l1.7 0.3l0.7 0.5l1.3 1.6l0.7 0.4l1.4 0.1l0.7 0.2l2.2 1.9l0.7 0.2l1.5-0.1l0.7 0.4l1.2 1.1l0.7 0.4l1.5-0.2l0.8 0.1l1.5 1.3l0.7 0.4l1.9-0.3l0.4 0.1l1.9 1.4l0.8 0.2l1.2-0.4l0.8 0l1.5 1.1l0.8 0.3l1.6-0.4l0.8 0l1.9 1.3l0.8 0l1.6-0.5l2.4 1.3l0.4 0l1.5-0.6l0.4 0.1l1.6 0.9l0.8 0.3l2-0.7l0.8 0.3l1.6 0.9l0.4 0l1.6-0.6l0.4-0.1l2 1.1l0.4 0.1l1.9-0.7l0.8 0.2l1.6 0.9l0.8-0.2l1.2-0.5l0.4-0.1l2 1l0.8 0l1.2-0.5l0.8-0.1l1.6 0.8l0.8 0.1M719.4 1582.1l-1.6 1.9l-0.6 0.3l-1.3 0.3l-0.7 0.4l-1.9 2.3l-0.7 0.3l-1.6 0.4l-2.4 2.3l-0.7 0.3l-1.1 0l-0.7 0.2l-2.1 2l-0.7 0.2l-1.1 0l-0.7 0.2l-2.2 1.9l-2.2 0.1l-2.2 1.8l-0.7 0.1l-1.5-0.2l-0.8 0.4l-1.5 1.1l-0.8 0.1l-1.6-0.4l-0.8 0.4l-1.1 0.9l-0.8 0.2l-2-0.5l-2.3 1.4l-2-0.6l-0.4 0.1l-1.6 0.9l-0.8 0.3l-2-0.6l-0.7 0.3l-1.2 0.8l-0.8 0.1l-1.6-0.6l-0.4 0l-2 1.1l-0.4 0.1l-1.6-0.6l-0.8-0.1l-2 1.1l-0.8-0.1l-1.6-0.5l-2.4 1.1l-1.5-0.6l-0.8-0.1l-2 1l-0.8 0l-1.6-0.7l-2.4 1.1l-0.4 0l-1.2-0.6l-0.8-0.1l-2 1l-0.8 0l-1.6-0.6l-0.4 0l-2 1l-0.4 0l-1.6-0.7l-0.4 0l-1.6 0.9l-0.8 0.2l-2-0.8l-0.8 0.3l-1.6 0.8l-0.8-0.2l-1.2-0.5l-0.4 0l-2 1l-0.8-0.1l-1.6-0.6l-0.8 0.2l-1.6 0.8l-2.3-0.7l-1.6 0.8l-0.8 0.3l-2-0.8l-0.8 0.2l-1.6 0.8l-0.4 0l-1.6-0.7l-0.4 0l-1.6 0.8l-0.8 0.2l-2-0.7l-0.8 0.1l-1.6 0.9l-0.4 0l-1.6-0.7l-0.4-0.1l-2 1l-0.4 0l-1.6-0.6l-0.8-0.1l-2 1l-0.4 0l-2-0.8l-2 1l-0.4 0l-2-0.8l-0.8 0.2l-1.6 0.8l-0.4 0l-2-0.8l-2 1l-0.4 0l-1.6-0.7l-0.8-0.1l-2 1l-0.8-0.2l-1.6-0.6l-0.4 0.1l-1.6 0.8l-0.4 0.1l-1.6-0.7l-0.8-0.1l-2 1l-0.8-0.2l-1.6-0.6l-2.4 1l-1.6-0.7l-0.8-0.1l-2 1l-0.8-0.1l-1.6-0.7l-2.4 1.1l-2-0.8l-0.8 0.1l-1.6 0.9l-0.8-0.1l-1.1-0.6l-0.8 0l-1.2 0.7l-0.8 0.3l-1.6-0.6l-0.8-0.1l-2 1l-0.8-0.1l-1.6-0.6l-0.4 0.1l-2 1l-2-0.7l-0.4 0l-2 1l-0.8 0l-1.6-0.6l-0.4 0l-2 1.1l-0.4 0l-1.6-0.7l-0.4 0l-1.6 0.8l-0.8 0.3l-2-0.7l-0.8 0.2l-1.5 0.9l-2.4-0.5l-0.8 0.4l-1.5 1.1l-2.2 0.1l-0.7 0.6l-1.7 1.8l-0.6 0.3l-1.3 0.3l-0.6 0.5l-2.1 3.3l-2.1 2.5l-1 2l-3.7 9.9l-4.6 18.6l-2.9 16.1l-3.8 16.5l-2.4 8.4l-2.5 11l-2.1 6l-2.1 6.4l-0.6 1.1l-0.4 0.6l-1.8 0.8l-2.1 2.1l-0.7 0.3l-1.1-0.2l-0.8 0l-1.6 0.9l-0.4 0.1l-0.7-0.4l-1.8-1.7l-1.6-0.4l-0.7-0.3l-1.6-1.9l-0.7-0.5l-2.1-0.3l-2.4-2.3l-1.7-0.3l-0.7-0.3l-2.2-2.6l-1.9-0.7l-0.6-0.5l-1.8-2.4l-0.5-0.6l-2-1.1l-2.3-3.1l-0.6-0.5l-1.7-0.8l-2.4-3.1l-0.6-0.4l-1.2-0.4l-0.6-0.4l-2.1-2.7l-0.6-0.5l-1.2-0.3l-0.6-0.4l-2.2-2.7l-0.6-0.4l-1.2-0.4l-0.7-0.4l-2.2-2.6l-0.6-0.3l-1.6-0.5l-2.3-2.5l-0.6-0.3l-1.7-0.3l-2.4-2.4l-0.7-0.2l-1-0.1l-0.7-0.2l-1.7-1.8l-0.7-0.5l-1.5 0l-0.7-0.2l-2.1-2l-0.7-0.3l-1.1 0.1l-0.7-0.2l-2.1-2l-0.7-0.2l-1.1 0l-0.7-0.2l-2.1-2l-0.8-0.2l-1 0.1l-0.7-0.3l-2.2-1.9l-0.7-0.2l-1.1 0.1l-0.7-0.2l-1.5-1.4l-0.7-0.5l-2.2-0.1l-1.9-1.5l-0.7-0.3l-1.9 0.1l-0.8-0.4l-1.1-1l-0.7-0.4l-1.6 0.3l-0.7-0.2l-1.5-1.2l-0.8-0.4l-1.5 0.3l-0.8-0.1l-1.5-1.2l-0.8-0.4l-1.9 0.3l-0.8-0.3l-1.5-1.2l-0.8-0.1l-1.5 0.4l-0.8-0.3l-1.2-1l-0.8-0.3l-1.9 0.5l-0.8-0.4l-1.5-1.1l-0.4 0l-2 0.4l-2.3-1.5l-0.4 0l-1.6 0.4l-0.4 0l-1.5-1.1l-0.8-0.3l-1.6 0.4l-0.7-0.1l-1.6-1l-0.8-0.3l-1.9 0.4l-0.8-0.3l-1.6-1l-0.8 0l-1.6 0.4l-2.3-1.4l-0.4 0l-1.6 0.5l-0.4 0l-1.5-1.1l-0.8-0.3l-2 0.6l-0.8-0.3l-1.6-1l-0.7 0l-1.6 0.5l-2.4-1.3l-0.4 0l-1.6 0.5l-0.4 0l-1.9-1.2l-0.8 0l-1.6 0.6l-0.8-0.3l-1.6-0.9l-0.8 0l-1.2 0.5l-0.4 0.1l-2.4-1.2l-1.6 0.5l-0.7 0.1l-2-1.1l-0.8 0.1l-1.6 0.5l-2.4-1.1l-2 0.7l-0.4 0l-1.6-0.9l-0.8-0.2l-2 0.7l-0.8-0.3l-1.6-0.9l-2.4 0.7l-1.6-0.8l-0.8-0.3l-1.9 0.8l-0.8-0.3l-1.6-0.8l-0.4 0l-1.2 0.5l-0.8 0.2l-1.6-0.8l-0.8-0.3l-1.6 0.7l-0.8 0l-2-1l-0.4 0l-1.6 0.7l-0.4 0l-2-1l-0.4 0l-1.6 0.6l-0.8 0.1l-2-1l-0.4 0l-2 0.7l-2-1l-0.4 0l-1.6 0.6l-0.8 0.1l-2-1l-0.8 0.1l-1.6 0.6l-2.4-1l-1.6 0.6l-0.8 0.1l-2-1l-0.8 0.1l-1.5 0.6l-2.4-1l-1.6 0.6l-0.8 0.1l-2-1l-0.8 0.1l-1.6 0.7l-2.4-1.1l-1.6 0.7l-0.8 0.1l-2-1l-0.8 0.1l-1.6 0.6l-0.4 0l-2-1l-2 0.7l-0.4 0.1l-2-1l-0.8 0.1l-1.6 0.6l-0.4 0l-2-1l-0.4 0l-1.6 0.8l-0.4 0l-2-1l-0.8 0.1l-1.6 0.6l-0.4 0l-2-1l-0.4 0.1l-1.6 0.7l-0.4 0l-2-1l-0.8 0.1l-1.6 0.7l-0.8-0.2l-1.2-0.7l-0.4-0.1l-0.8 0.2" stroke="#cc9712"/>
</g>
<line x1="624.2" y1="1299.5" x2="667.7" y2="1299.5" stroke="#464646" stroke-width="2.4" />
<text x="671.85" y="1306" font-family="'Liberation Serif', serif" font-size="19.4" text-anchor="start" font-weight="normal" font-style="normal" fill="#000" >100mV/s</text>
<line x1="624.2" y1="1323.52" x2="667.7" y2="1323.52" stroke="#ec3035" stroke-width="2.4" />
<text x="671.85" y="1330.02" font-family="'Liberation Serif', serif" font-size="19.4" text-anchor="start" font-weight="normal" font-style="normal" fill="#000" >150mV/s</text>
<line x1="624.2" y1="1347.54" x2="667.7" y2="1347.54" stroke="#1462de" stroke-width="2.4" />
<text x="672.85" y="1354.04" font-family="'Liberation Serif', serif" font-size="19.4" text-anchor="start" font-weight="normal" font-style="normal" fill="#000" >200mV/s</text>
<line x1="624.2" y1="1371.56" x2="667.7" y2="1371.56" stroke="#23a05c" stroke-width="2.4" />
<text x="672.85" y="1378.06" font-family="'Liberation Serif', serif" font-size="19.4" text-anchor="start" font-weight="normal" font-style="normal" fill="#000" >250mV/s</text>
<line x1="624.2" y1="1395.58" x2="667.7" y2="1395.58" stroke="#ad72e4" stroke-width="2.4" />
<text x="672.6" y="1402.08" font-family="'Liberation Serif', serif" font-size="19.4" text-anchor="start" font-weight="normal" font-style="normal" fill="#000" >300mV/s</text>
<line x1="624.2" y1="1419.6" x2="667.7" y2="1419.6" stroke="#cc9712" stroke-width="2.4" />
<text x="672.6" y="1426.1" font-family="'Liberation Serif', serif" font-size="19.4" text-anchor="start" font-weight="normal" font-style="normal" fill="#000" >350mV/s</text>
<rect x="227.2" y="1298.1" width="282.0" height="226.9000000000001" fill="#fff" stroke="#111" stroke-width="1.3"/>
<rect x="224" y="1436.5" width="8" height="7" fill="#fff"/>
<path d="M222.5 1440 L232 1434.8 M222.5 1444.2 L232 1439" stroke="#111" stroke-width="1.2" fill="none"/>
<line x1="222.2" y1="1298.1" x2="227.2" y2="1298.1" stroke="#111" stroke-width="1.2" />
<line x1="222.2" y1="1344.35" x2="227.2" y2="1344.35" stroke="#111" stroke-width="1.2" />
<line x1="222.2" y1="1390.6" x2="227.2" y2="1390.6" stroke="#111" stroke-width="1.2" />
<line x1="224.2" y1="1321.22" x2="227.2" y2="1321.22" stroke="#111" stroke-width="1.2" />
<line x1="224.2" y1="1367.47" x2="227.2" y2="1367.47" stroke="#111" stroke-width="1.2" />
<line x1="224.2" y1="1413.72" x2="227.2" y2="1413.72" stroke="#111" stroke-width="1.2" />
<line x1="222.2" y1="1478.1" x2="227.2" y2="1478.1" stroke="#111" stroke-width="1.2" />
<line x1="222.2" y1="1525.1" x2="227.2" y2="1525.1" stroke="#111" stroke-width="1.2" />
<line x1="224.2" y1="1454.6" x2="227.2" y2="1454.6" stroke="#111" stroke-width="1.2" />
<line x1="224.2" y1="1501.6" x2="227.2" y2="1501.6" stroke="#111" stroke-width="1.2" />
<line x1="247.3" y1="1525" x2="247.3" y2="1530" stroke="#111" stroke-width="1.2" />
<line x1="287.6" y1="1525" x2="287.6" y2="1530" stroke="#111" stroke-width="1.2" />
<line x1="327.9" y1="1525" x2="327.9" y2="1530" stroke="#111" stroke-width="1.2" />
<line x1="368.2" y1="1525" x2="368.2" y2="1530" stroke="#111" stroke-width="1.2" />
<line x1="408.5" y1="1525" x2="408.5" y2="1530" stroke="#111" stroke-width="1.2" />
<line x1="448.8" y1="1525" x2="448.8" y2="1530" stroke="#111" stroke-width="1.2" />
<line x1="489.1" y1="1525" x2="489.1" y2="1530" stroke="#111" stroke-width="1.2" />
<line x1="267.45" y1="1525" x2="267.45" y2="1528" stroke="#111" stroke-width="1.2" />
<line x1="307.75" y1="1525" x2="307.75" y2="1528" stroke="#111" stroke-width="1.2" />
<line x1="348.05" y1="1525" x2="348.05" y2="1528" stroke="#111" stroke-width="1.2" />
<line x1="388.35" y1="1525" x2="388.35" y2="1528" stroke="#111" stroke-width="1.2" />
<line x1="428.65" y1="1525" x2="428.65" y2="1528" stroke="#111" stroke-width="1.2" />
<line x1="468.95" y1="1525" x2="468.95" y2="1528" stroke="#111" stroke-width="1.2" />
<text x="191.85" y="1303.1" font-family="'Liberation Sans', sans-serif" font-size="16.6" text-anchor="start" font-weight="normal" font-style="normal" fill="#000" >50μ</text>
<text x="191.85" y="1349.35" font-family="'Liberation Sans', sans-serif" font-size="16.6" text-anchor="start" font-weight="normal" font-style="normal" fill="#000" >40μ</text>
<text x="191.85" y="1395.6" font-family="'Liberation Sans', sans-serif" font-size="16.6" text-anchor="start" font-weight="normal" font-style="normal" fill="#000" >30μ</text>
<text x="186.35" y="1483.1" font-family="'Liberation Sans', sans-serif" font-size="16.6" text-anchor="start" font-weight="normal" font-style="normal" fill="#000" >-10μ</text>
<text x="186.35" y="1530.1" font-family="'Liberation Sans', sans-serif" font-size="16.6" text-anchor="start" font-weight="normal" font-style="normal" fill="#000" >-20μ</text>
<text x="231.15" y="1545.8" font-family="'Liberation Sans', sans-serif" font-size="16.6" text-anchor="start" font-weight="normal" font-style="normal" fill="#000" >0.30</text>
<text x="271.45" y="1545.8" font-family="'Liberation Sans', sans-serif" font-size="16.6" text-anchor="start" font-weight="normal" font-style="normal" fill="#000" >0.35</text>
<text x="311.75" y="1545.8" font-family="'Liberation Sans', sans-serif" font-size="16.6" text-anchor="start" font-weight="normal" font-style="normal" fill="#000" >0.40</text>
<text x="352.05" y="1545.8" font-family="'Liberation Sans', sans-serif" font-size="16.6" text-anchor="start" font-weight="normal" font-style="normal" fill="#000" >0.45</text>
<text x="392.35" y="1545.8" font-family="'Liberation Sans', sans-serif" font-size="16.6" text-anchor="start" font-weight="normal" font-style="normal" fill="#000" >0.50</text>
<text x="432.65" y="1545.8" font-family="'Liberation Sans', sans-serif" font-size="16.6" text-anchor="start" font-weight="normal" font-style="normal" fill="#000" >0.55</text>
<text x="472.95" y="1545.8" font-family="'Liberation Sans', sans-serif" font-size="16.6" text-anchor="start" font-weight="normal" font-style="normal" fill="#000" >0.60</text>
<path d="M259.9 1388.7 L482.2 1319.5 M260.5 1474.6 L482.4 1517.4" stroke="#f03a3a" stroke-width="1.5" stroke-dasharray="5 3.4" fill="none"/>
<circle cx="260.2" cy="1392" r="3.9" fill="#ee3a3d"/>
<circle cx="317.4" cy="1368.4" r="3.9" fill="#ee3a3d"/>
<circle cx="365.8" cy="1352.8" r="3.9" fill="#ee3a3d"/>
<circle cx="408.6" cy="1339.6" r="3.9" fill="#ee3a3d"/>
<circle cx="447.1" cy="1332.5" r="3.9" fill="#ee3a3d"/>
<circle cx="482.2" cy="1320.3" r="3.9" fill="#ee3a3d"/>
<rect x="257.1" y="1472.4" width="6.6" height="6.6" fill="#4d4d4d"/>
<rect x="314" y="1483.7" width="6.6" height="6.6" fill="#4d4d4d"/>
<rect x="362.4" y="1492.9" width="6.6" height="6.6" fill="#4d4d4d"/>
<rect x="405.1" y="1501.1" width="6.6" height="6.6" fill="#4d4d4d"/>
<rect x="443.9" y="1507.7" width="6.6" height="6.6" fill="#4d4d4d"/>
<rect x="479.1" y="1513.9" width="6.6" height="6.6" fill="#4d4d4d"/>
<rect x="448.1" y="1370.3" width="6.6" height="6.6" fill="#4d4d4d"/>
<circle cx="451" cy="1395.7" r="3.9" fill="#ee3a3d"/>
<text x="468.55" y="1378.9" font-family="'Liberation Sans', sans-serif" font-size="16" text-anchor="start" font-weight="normal" font-style="italic" fill="#000" >I</text>
<text x="472.65" y="1382.2" font-family="'Liberation Sans', sans-serif" font-size="11.5" text-anchor="start" font-weight="normal" font-style="normal" fill="#000" >pa</text>
<text x="468.55" y="1401.6" font-family="'Liberation Sans', sans-serif" font-size="16" text-anchor="start" font-weight="normal" font-style="italic" fill="#000" >I</text>
<text x="472.65" y="1404.9" font-family="'Liberation Sans', sans-serif" font-size="11.5" text-anchor="start" font-weight="normal" font-style="normal" fill="#000" >pc</text>
<text x="178.55" y="1435.97" font-family="'Liberation Sans', sans-serif" font-size="28" text-anchor="start" font-weight="bold" font-style="italic" fill="#000" transform="rotate(-90 178.55 1435.97)">I / A</text>
<text x="327.8" y="1572.8" font-family="'Liberation Sans', sans-serif" font-size="20.3" font-weight="bold">V<tspan font-size="13.3" dy="-9.8">1/2</tspan><tspan dy="9.8"> (s</tspan><tspan font-size="13.3" dy="-9.8">1/2</tspan><tspan dy="9.8">)</tspan></text>
</svg>
</body></html>
